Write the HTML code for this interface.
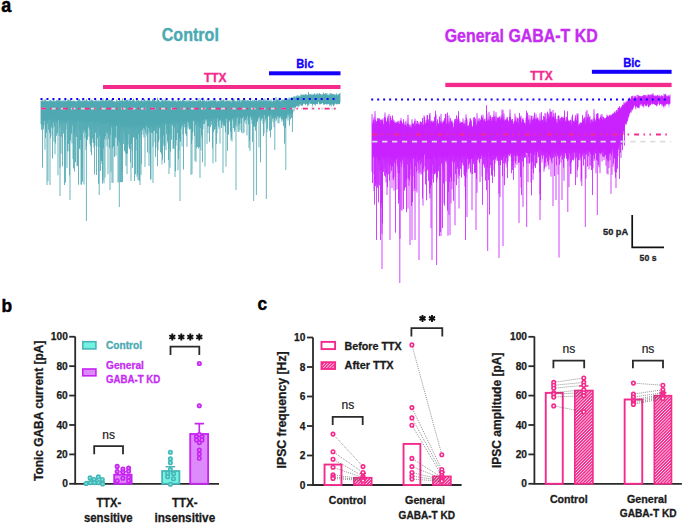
<!DOCTYPE html>
<html><head><meta charset="utf-8"><style>
html,body{margin:0;padding:0;background:#fff;}
svg{display:block;font-family:'Liberation Sans', sans-serif;}
</style></head><body>
<svg width="685" height="525" viewBox="0 0 685 525">
<rect width="685" height="525" fill="#fff"/>
<path d="M41 100.6V124.2M41.5 101.2V129.7M42.0 100.1V124.9M42.5 100.6V167.6M43.0 101.5V125.9M43.5 101.0V129.4M44.0 99.6V124.9M44.5 101.4V120.9M45.0 99.6V149.7M45.5 99.6V138.0M46.0 101.0V127.8M46.5 100.8V132.7M47.0 101.0V185.0M47.5 101.1V123.7M48.0 101.2V181.3M48.5 101.6V129.8M49.0 100.6V117.3M49.5 100.7V132.8M50.0 100.5V120.3M50.5 100.1V138.2M51.0 100.2V135.7M51.5 101.0V127.4M52.0 100.8V125.5M52.5 101.7V158.6M53.0 100.7V128.0M53.5 100.2V122.5M54.0 99.8V141.6M54.5 101.4V126.3M55.0 101.8V154.3M55.5 101.0V143.4M56.0 101.2V120.8M56.5 100.4V135.8M57.0 100.1V122.9M57.5 100.4V133.2M58.0 99.8V175.3M58.5 101.0V120.1M59.0 99.5V135.8M59.5 99.0V127.9M60.0 98.3V167.7M60.5 101.5V124.2M61.0 101.0V153.8M61.5 100.9V136.7M62.0 100.8V123.6M62.5 101.5V166.4M63.0 99.9V130.7M63.5 101.1V133.7M64.0 101.2V123.1M64.5 100.4V185.0M65.0 102.1V139.2M65.5 99.6V182.6M66.0 100.8V129.1M66.5 101.3V123.7M67.0 100.8V167.8M67.5 100.8V151.1M68.0 99.2V120.7M68.5 100.1V143.9M69.0 100.0V151.7M69.5 100.1V175.1M70.0 101.0V122.9M70.5 99.4V140.4M71.0 100.5V131.6M71.5 101.0V133.8M72.0 101.2V143.4M72.5 101.0V125.8M73.0 100.8V159.1M73.5 100.8V168.4M74.0 100.7V132.7M74.5 100.9V171.4M75.0 101.1V135.6M75.5 101.2V162.2M76.0 101.7V127.9M76.5 101.7V136.9M77.0 100.5V166.1M77.5 100.8V166.1M78.0 100.6V120.5M78.5 99.7V184.7M79.0 100.4V129.6M79.5 98.9V148.4M80.0 102.1V149.5M80.5 100.6V139.7M81.0 100.5V184.6M81.5 101.1V184.6M82.0 100.9V166.9M82.5 100.1V181.8M83.0 102.1V129.6M83.5 100.6V132.7M84.0 100.7V184.5M84.5 100.3V130.4M85.0 100.9V137.8M85.5 100.8V133.1M86.0 100.1V149.8M86.5 99.1V146.1M87.0 102.5V140.1M87.5 100.6V139.5M88.0 100.8V128.0M88.5 101.2V126.5M89.0 101.8V136.7M89.5 100.0V129.4M90.0 100.8V143.8M90.5 100.5V146.0M91.0 101.0V151.9M91.5 99.6V155.3M92.0 100.9V142.5M92.5 100.1V138.6M93.0 100.2V129.0M93.5 101.2V143.0M94.0 100.9V147.7M94.5 101.1V174.5M95.0 100.9V145.8M95.5 100.4V132.9M96.0 100.4V131.6M96.5 100.2V175.0M97.0 102.6V146.6M97.5 100.9V137.9M98.0 101.4V126.6M98.5 100.4V183.8M99.0 100.9V125.3M99.5 101.3V135.2M100.0 100.3V147.3M100.5 100.5V170.9M101.0 101.3V158.2M101.5 100.4V161.1M102.0 101.3V164.0M102.5 100.3V183.5M103.0 98.3V180.4M103.5 100.6V148.5M104.0 102.0V183.4M104.5 100.8V138.8M105.0 100.6V177.6M105.5 99.9V136.1M106.0 99.6V139.8M106.5 100.3V132.2M107.0 100.7V146.5M107.5 101.3V133.7M108.0 99.6V174.2M108.5 100.3V138.8M109.0 100.1V131.6M109.5 100.2V148.0M110.0 99.9V128.5M110.5 101.0V135.2M111.0 100.3V172.1M111.5 99.4V127.4M112.0 99.2V182.9M112.5 100.1V148.3M113.0 101.3V182.8M113.5 101.3V146.5M114.0 101.7V146.0M114.5 101.2V157.0M115.0 101.4V136.2M115.5 101.7V137.7M116.0 102.1V155.9M116.5 99.5V126.0M117.0 100.1V138.2M117.5 101.2V146.0M118.0 101.1V182.4M118.5 101.4V141.2M119.0 100.9V182.3M119.5 99.5V142.7M120.0 100.6V131.8M120.5 100.8V182.2M121.0 100.5V146.0M121.5 100.7V182.1M122.0 101.1V171.6M122.5 98.5V182.1M123.0 100.7V132.4M123.5 101.1V144.0M124.0 101.0V131.4M124.5 100.2V151.2M125.0 99.7V138.2M125.5 100.3V153.1M126.0 100.4V165.8M126.5 100.0V154.3M127.0 99.9V174.1M127.5 99.8V153.5M128.0 102.0V144.2M128.5 101.3V134.1M129.0 99.2V147.1M129.5 100.2V149.0M130.0 100.2V128.7M130.5 100.6V162.4M131.0 101.2V130.7M131.5 100.9V143.9M132.0 100.8V150.4M132.5 100.1V167.9M133.0 100.6V137.3M133.5 98.7V137.5M134.0 100.3V132.1M134.5 100.6V181.0M135.0 101.7V136.9M135.5 101.5V174.3M136.0 101.1V150.6M136.5 100.1V139.2M137.0 101.4V176.7M137.5 100.6V174.2M138.0 100.2V180.0M138.5 100.2V133.8M139.0 100.9V180.6M139.5 100.9V180.5M140.0 100.9V137.7M140.5 101.0V132.5M141.0 100.4V175.0M141.5 100.2V164.2M142.0 100.3V129.7M142.5 100.8V130.1M143.0 102.5V134.6M143.5 100.3V128.0M144.0 101.3V137.6M144.5 99.0V129.3M145.0 99.9V166.9M145.5 100.8V132.1M146.0 101.3V134.3M146.5 100.7V126.0M147.0 100.9V136.6M147.5 100.7V152.4M148.0 100.0V133.5M148.5 100.3V128.0M149.0 100.4V166.1M149.5 99.3V131.5M150.0 101.1V153.6M150.5 100.7V179.5M151.0 102.0V179.4M151.5 101.1V132.8M152.0 100.6V127.2M152.5 99.4V133.4M153.0 99.4V146.7M153.5 100.7V131.2M154.0 99.4V130.2M154.5 100.0V130.8M155.0 100.7V142.4M155.5 100.9V156.9M156.0 101.8V147.6M156.5 101.5V133.4M157.0 100.0V127.1M157.5 97.7V166.2M158.0 100.7V150.2M158.5 99.9V141.9M159.0 101.7V140.0M159.5 101.2V127.7M160.0 100.6V128.7M160.5 101.8V152.3M161.0 101.5V137.4M161.5 100.6V154.0M162.0 100.2V164.3M162.5 99.6V159.6M163.0 101.0V144.5M163.5 100.9V135.6M164.0 99.3V146.5M164.5 101.5V163.0M165.0 100.2V145.9M165.5 99.7V124.3M166.0 99.9V150.2M166.5 100.6V134.2M167.0 101.1V129.0M167.5 100.4V141.2M168.0 101.5V143.5M168.5 100.8V159.9M169.0 100.2V149.0M169.5 100.9V134.2M170.0 100.9V167.7M170.5 101.6V151.8M171.0 101.0V124.2M171.5 100.6V139.8M172.0 101.5V125.4M172.5 100.0V125.2M173.0 98.8V148.8M173.5 100.7V147.7M174.0 100.6V149.0M174.5 101.0V127.5M175.0 100.7V177.0M175.5 100.6V171.2M176.0 101.8V145.6M176.5 101.8V140.0M177.0 100.5V124.4M177.5 101.3V133.2M178.0 100.1V170.3M178.5 100.3V159.2M179.0 101.0V150.6M179.5 100.8V138.1M180.0 101.2V140.6M180.5 100.5V141.7M181.0 100.9V129.0M181.5 101.3V127.0M182.0 101.1V146.5M182.5 99.8V125.3M183.0 99.6V134.4M183.5 100.3V169.5M184.0 99.6V127.8M184.5 101.0V124.1M185.0 102.2V127.0M185.5 101.2V133.9M186.0 100.3V126.8M186.5 101.2V136.0M187.0 100.6V146.8M187.5 101.7V121.5M188.0 100.3V128.5M188.5 100.9V122.8M189.0 101.4V126.2M189.5 100.2V129.7M190.0 101.4V128.4M190.5 100.7V129.0M191.0 101.2V174.9M191.5 101.0V143.8M192.0 100.6V140.0M192.5 101.6V133.2M193.0 100.0V131.6M193.5 101.0V121.1M194.0 100.5V121.0M194.5 100.9V135.7M195.0 101.2V160.9M195.5 101.3V124.8M196.0 100.8V162.0M196.5 101.2V147.8M197.0 99.0V125.4M197.5 101.2V147.0M198.0 100.8V121.9M198.5 100.7V148.5M199.0 98.2V126.9M199.5 100.8V147.0M200.0 101.3V126.2M200.5 99.4V128.1M201.0 101.0V150.5M201.5 100.9V135.2M202.0 101.7V137.6M202.5 100.3V162.2M203.0 97.6V129.1M203.5 100.9V124.0M204.0 101.5V119.6M204.5 100.2V124.0M205.0 100.6V166.6M205.5 101.7V119.4M206.0 101.4V121.7M206.5 101.0V119.5M207.0 99.4V143.9M207.5 101.6V126.8M208.0 101.6V133.2M208.5 100.4V126.2M209.0 100.7V126.0M209.5 101.2V142.1M210.0 100.6V121.4M210.5 100.8V127.2M211.0 100.2V125.2M211.5 100.9V121.1M212.0 100.7V124.5M212.5 100.8V148.3M213.0 100.5V163.3M213.5 100.2V132.0M214.0 100.2V118.2M214.5 100.6V129.7M215.0 100.9V129.0M215.5 100.2V126.5M216.0 100.2V124.5M216.5 102.3V143.8M217.0 100.8V133.4M217.5 101.4V118.2M218.0 101.1V122.1M218.5 101.2V126.5M219.0 100.8V128.8M219.5 100.8V120.7M220.0 101.8V143.6M220.5 99.8V120.6M221.0 101.2V120.4M221.5 100.4V128.0M222.0 100.6V125.2M222.5 100.5V122.5M223.0 100.2V119.9M223.5 99.7V125.5M224.0 99.6V122.4M224.5 102.0V125.8M225.0 100.8V126.5M225.5 101.3V132.5M226.0 100.4V166.7M226.5 100.7V118.7M227.0 101.0V122.5M227.5 100.4V150.8M228.0 101.3V133.2M228.5 100.8V134.7M229.0 100.8V120.6M229.5 100.7V120.3M230.0 100.6V122.3M230.5 101.8V131.8M231.0 100.4V140.2M231.5 102.4V137.6M232.0 100.5V141.6M232.5 97.9V119.2M233.0 101.5V120.6M233.5 98.8V128.1M234.0 98.9V117.9M234.5 100.9V131.8M235.0 100.6V129.8M235.5 101.4V125.3M236.0 101.1V122.2M236.5 101.8V118.3M237.0 100.8V126.8M237.5 99.7V117.8M238.0 99.8V131.9M238.5 101.6V125.3M239.0 100.6V131.8M239.5 98.3V123.9M240.0 99.7V130.1M240.5 102.4V118.2M241.0 100.6V123.3M241.5 100.9V132.6M242.0 100.4V117.1M242.5 99.9V118.3M243.0 99.9V133.5M243.5 99.9V116.2M244.0 100.4V132.5M244.5 100.3V121.9M245.0 100.0V120.0M245.5 100.3V120.2M246.0 100.6V124.2M246.5 101.1V118.6M247.0 100.1V135.5M247.5 100.3V115.1M248.0 100.1V120.6M248.5 100.6V124.4M249.0 100.9V147.9M249.5 100.6V140.6M250.0 101.5V150.9M250.5 99.3V116.5M251.0 100.9V117.7M251.5 100.9V119.8M252.0 101.2V123.9M252.5 100.3V141.9M253.0 100.5V115.6M253.5 101.8V126.2M254.0 99.8V126.7M254.5 100.1V126.5M255.0 100.9V119.6M255.5 101.0V130.5M256.0 98.8V122.2M256.5 100.2V125.6M257.0 100.9V122.5M257.5 101.2V121.2M258.0 100.4V119.3M258.5 100.5V117.9M259.0 99.7V147.4M259.5 100.3V116.8M260.0 100.4V118.7M260.5 99.9V162.4M261.0 101.2V121.3M261.5 100.4V119.6M262.0 99.4V115.4M262.5 101.3V118.5M263.0 101.0V123.9M263.5 99.3V136.2M264.0 99.5V133.6M264.5 101.2V114.7M265.0 98.4V122.4M265.5 100.7V119.7M266.0 100.9V117.2M266.5 100.4V118.2M267.0 100.2V132.2M267.5 100.6V128.7M268.0 100.9V115.5M268.5 100.4V116.4M269.0 101.1V116.6M269.5 100.5V130.8M270.0 101.4V115.3M270.5 100.5V137.5M271.0 99.4V113.6M271.5 101.5V129.8M272.0 101.2V116.9M272.5 101.5V118.9M273.0 101.2V121.9M273.5 99.4V117.8M274.0 99.8V127.1M274.5 100.9V119.9M275.0 100.4V118.0M275.5 101.5V117.8M276.0 97.0V121.3M276.5 99.9V119.5M277.0 99.6V117.8M277.5 99.8V115.5M278.0 99.5V123.3M278.5 100.7V116.2M279.0 97.6V123.2M279.5 100.5V118.0M280.0 100.3V117.7M280.5 101.3V116.3M281.0 100.4V118.5M281.5 100.7V119.5M282.0 99.6V121.8M282.5 99.9V119.4M283.0 100.7V119.1M283.5 99.9V126.1M284.0 99.7V120.1M284.5 98.7V143.7M285.0 98.2V118.5M285.5 100.4V128.2M286.0 100.2V117.5M286.5 98.9V118.6M287.0 99.6V118.0M287.5 98.6V114.5M288.0 99.1V120.7M288.5 99.4V114.5M289.0 97.5V117.2M289.5 99.0V125.7M290.0 97.7V113.6M290.5 99.1V119.2M291.0 98.1V113.8M291.5 97.3V117.7M292.0 97.4V117.8M292.5 97.5V113.6M293.0 98.2V112.4M293.5 96.7V110.0M294.0 97.1V108.0M294.5 96.6V106.3M295.0 95.9V105.1M295.5 97.8V104.3M296.0 96.8V104.0M296.5 96.2V104.0M297.0 95.3V104.0M297.5 97.0V104.0M298.0 95.5V104.0M298.5 95.7V104.0M299.0 96.4V104.0M299.5 96.8V104.0M300.0 95.6V102.7M300.5 96.5V104.0M301.0 94.1V104.0M301.5 94.9V104.0M302.0 94.8V104.0M302.5 94.8V104.0M303.0 95.5V104.0M303.5 94.5V102.6M304.0 94.8V103.9M304.5 95.2V101.9M305.0 94.1V104.0M305.5 94.4V104.0M306.0 94.4V104.0M306.5 94.8V103.5M307.0 94.9V103.7M307.5 95.0V104.0M308.0 94.8V104.0M308.5 92.0V104.0M309.0 94.0V104.0M309.5 94.3V102.3M310.0 95.6V101.9M310.5 94.1V103.6M311.0 95.3V103.2M311.5 94.7V103.5M312.0 93.8V104.0M312.5 94.9V104.0M313.0 94.8V103.4M313.5 94.8V104.0M314.0 93.7V104.0M314.5 93.5V104.0M315.0 94.4V104.0M315.5 94.7V104.0M316.0 94.4V102.7M316.5 94.4V104.0M317.0 93.3V103.9M317.5 94.7V104.0M318.0 93.3V102.4M318.5 94.8V102.1M319.0 94.0V101.4M319.5 93.2V104.0M320.0 93.7V104.0M320.5 94.2V104.0M321.0 94.3V101.4M321.5 95.4V103.8M322.0 94.5V103.3M322.5 94.3V102.5M323.0 94.3V103.1M323.5 92.7V104.0M324.0 94.9V104.0M324.5 94.0V104.0M325.0 93.7V104.0M325.5 93.6V103.5M326.0 93.1V104.0M326.5 94.6V104.0M327.0 93.3V104.0M327.5 94.8V104.0M328.0 94.6V104.0M328.5 95.3V104.0M329.0 94.5V103.4M329.5 94.5V104.0M330.0 93.1V104.0M330.5 94.7V104.0M331.0 93.6V104.0M331.5 93.6V104.0M332.0 93.8V102.3M332.5 94.0V104.0M333.0 94.5V104.0M333.5 94.2V104.0M334.0 94.7V104.0M334.5 94.2V104.0M335.0 95.7V102.8M335.5 94.6V103.2M336.0 94.8V104.0M336.5 93.4V104.0M337.0 95.3V103.0M337.5 95.0V103.7M338.0 94.2V103.7M338.5 94.4V104.0M339.0 94.2V104.0M339.5 93.6V103.9M340.0 92.9V102.7M86.4 122.3V221.0M99.2 124.0V195.0M119.3 125.6V207.0M131 126.1V181.0M153 123.9V183.0M169 123.3V174.0M180 121.1V201.0M192 120.8V174.0M215.8 121.0V162.0M223 118.6V173.0M236 116.4V190.0M253.7 114.8V201.0M256.4 114.1V195.0M266.3 115.0V199.0M274.8 117.9V150.0M285.8 115.6V170.0M292.4 110.4V132.0M60 119.2V196.0M70 120.2V200.0M50 121.3V185.0M110 125.6V190.0M140 125.7V185.0M200 119.6V178.0" stroke="#4FA9B2" stroke-width="0.85" fill="none"/><polygon points="41,102.1 41.5,102.7 42.0,101.6 42.5,102.1 43.0,103.0 43.5,102.5 44.0,101.1 44.5,102.9 45.0,101.1 45.5,101.1 46.0,102.5 46.5,102.3 47.0,102.5 47.5,102.6 48.0,102.7 48.5,103.1 49.0,102.1 49.5,102.2 50.0,102.0 50.5,101.6 51.0,101.7 51.5,102.5 52.0,102.3 52.5,103.2 53.0,102.2 53.5,101.7 54.0,101.3 54.5,102.9 55.0,103.3 55.5,102.5 56.0,102.7 56.5,101.9 57.0,101.6 57.5,101.9 58.0,101.3 58.5,102.5 59.0,101.0 59.5,100.5 60.0,99.8 60.5,103.0 61.0,102.5 61.5,102.4 62.0,102.3 62.5,103.0 63.0,101.4 63.5,102.6 64.0,102.7 64.5,101.9 65.0,103.6 65.5,101.1 66.0,102.3 66.5,102.8 67.0,102.3 67.5,102.3 68.0,100.7 68.5,101.6 69.0,101.5 69.5,101.6 70.0,102.5 70.5,100.9 71.0,102.0 71.5,102.5 72.0,102.7 72.5,102.5 73.0,102.3 73.5,102.3 74.0,102.2 74.5,102.4 75.0,102.6 75.5,102.7 76.0,103.2 76.5,103.2 77.0,102.0 77.5,102.3 78.0,102.1 78.5,101.2 79.0,101.9 79.5,100.4 80.0,103.6 80.5,102.1 81.0,102.0 81.5,102.6 82.0,102.4 82.5,101.6 83.0,103.6 83.5,102.1 84.0,102.2 84.5,101.8 85.0,102.4 85.5,102.3 86.0,101.6 86.5,100.6 87.0,104.0 87.5,102.1 88.0,102.3 88.5,102.7 89.0,103.3 89.5,101.5 90.0,102.3 90.5,102.0 91.0,102.5 91.5,101.1 92.0,102.4 92.5,101.6 93.0,101.7 93.5,102.7 94.0,102.4 94.5,102.6 95.0,102.4 95.5,101.9 96.0,101.9 96.5,101.7 97.0,104.1 97.5,102.4 98.0,102.9 98.5,101.9 99.0,102.4 99.5,102.8 100.0,101.8 100.5,102.0 101.0,102.8 101.5,101.9 102.0,102.8 102.5,101.8 103.0,99.8 103.5,102.1 104.0,103.5 104.5,102.3 105.0,102.1 105.5,101.4 106.0,101.1 106.5,101.8 107.0,102.2 107.5,102.8 108.0,101.1 108.5,101.8 109.0,101.6 109.5,101.7 110.0,101.4 110.5,102.5 111.0,101.8 111.5,100.9 112.0,100.7 112.5,101.6 113.0,102.8 113.5,102.8 114.0,103.2 114.5,102.7 115.0,102.9 115.5,103.2 116.0,103.6 116.5,101.0 117.0,101.6 117.5,102.7 118.0,102.6 118.5,102.9 119.0,102.4 119.5,101.0 120.0,102.1 120.5,102.3 121.0,102.0 121.5,102.2 122.0,102.6 122.5,100.0 123.0,102.2 123.5,102.6 124.0,102.5 124.5,101.7 125.0,101.2 125.5,101.8 126.0,101.9 126.5,101.5 127.0,101.4 127.5,101.3 128.0,103.5 128.5,102.8 129.0,100.7 129.5,101.7 130.0,101.7 130.5,102.1 131.0,102.7 131.5,102.4 132.0,102.3 132.5,101.6 133.0,102.1 133.5,100.2 134.0,101.8 134.5,102.1 135.0,103.2 135.5,103.0 136.0,102.6 136.5,101.6 137.0,102.9 137.5,102.1 138.0,101.7 138.5,101.7 139.0,102.4 139.5,102.4 140.0,102.4 140.5,102.5 141.0,101.9 141.5,101.7 142.0,101.8 142.5,102.3 143.0,104.0 143.5,101.8 144.0,102.8 144.5,100.5 145.0,101.4 145.5,102.3 146.0,102.8 146.5,102.2 147.0,102.4 147.5,102.2 148.0,101.5 148.5,101.8 149.0,101.9 149.5,100.8 150.0,102.6 150.5,102.2 151.0,103.5 151.5,102.6 152.0,102.1 152.5,100.9 153.0,100.9 153.5,102.2 154.0,100.9 154.5,101.5 155.0,102.2 155.5,102.4 156.0,103.3 156.5,103.0 157.0,101.5 157.5,99.2 158.0,102.2 158.5,101.4 159.0,103.2 159.5,102.7 160.0,102.1 160.5,103.3 161.0,103.0 161.5,102.1 162.0,101.7 162.5,101.1 163.0,102.5 163.5,102.4 164.0,100.8 164.5,103.0 165.0,101.7 165.5,101.2 166.0,101.4 166.5,102.1 167.0,102.6 167.5,101.9 168.0,103.0 168.5,102.3 169.0,101.7 169.5,102.4 170.0,102.4 170.5,103.1 171.0,102.5 171.5,102.1 172.0,103.0 172.5,101.5 173.0,100.3 173.5,102.2 174.0,102.1 174.5,102.5 175.0,102.2 175.5,102.1 176.0,103.3 176.5,103.3 177.0,102.0 177.5,102.8 178.0,101.6 178.5,101.8 179.0,102.5 179.5,102.3 180.0,102.7 180.5,102.0 181.0,102.4 181.5,102.8 182.0,102.6 182.5,101.3 183.0,101.1 183.5,101.8 184.0,101.1 184.5,102.5 185.0,103.7 185.5,102.7 186.0,101.8 186.5,102.7 187.0,102.1 187.5,103.2 188.0,101.8 188.5,102.4 189.0,102.9 189.5,101.7 190.0,102.9 190.5,102.2 191.0,102.7 191.5,102.5 192.0,102.1 192.5,103.1 193.0,101.5 193.5,102.5 194.0,102.0 194.5,102.4 195.0,102.7 195.5,102.8 196.0,102.3 196.5,102.7 197.0,100.5 197.5,102.7 198.0,102.3 198.5,102.2 199.0,99.7 199.5,102.3 200.0,102.8 200.5,100.9 201.0,102.5 201.5,102.4 202.0,103.2 202.5,101.8 203.0,99.1 203.5,102.4 204.0,103.0 204.5,101.7 205.0,102.1 205.5,103.2 206.0,102.9 206.5,102.5 207.0,100.9 207.5,103.1 208.0,103.1 208.5,101.9 209.0,102.2 209.5,102.7 210.0,102.1 210.5,102.3 211.0,101.7 211.5,102.4 212.0,102.2 212.5,102.3 213.0,102.0 213.5,101.7 214.0,101.7 214.5,102.1 215.0,102.4 215.5,101.7 216.0,101.7 216.5,103.8 217.0,102.3 217.5,102.9 218.0,102.6 218.5,102.7 219.0,102.3 219.5,102.3 220.0,103.3 220.5,101.3 221.0,102.7 221.5,101.9 222.0,102.1 222.5,102.0 223.0,101.7 223.5,101.2 224.0,101.1 224.5,103.5 225.0,102.3 225.5,102.8 226.0,101.9 226.5,102.2 227.0,102.5 227.5,101.9 228.0,102.8 228.5,102.3 229.0,102.3 229.5,102.2 230.0,102.1 230.5,103.3 231.0,101.9 231.5,103.9 232.0,102.0 232.5,99.4 233.0,103.0 233.5,100.3 234.0,100.4 234.5,102.4 235.0,102.1 235.5,102.9 236.0,102.6 236.5,103.3 237.0,102.3 237.5,101.2 238.0,101.3 238.5,103.1 239.0,102.1 239.5,99.8 240.0,101.2 240.5,103.9 241.0,102.1 241.5,102.4 242.0,101.9 242.5,101.4 243.0,101.4 243.5,101.4 244.0,101.9 244.5,101.8 245.0,101.5 245.5,101.8 246.0,102.1 246.5,102.6 247.0,101.6 247.5,101.8 248.0,101.6 248.5,102.1 249.0,102.4 249.5,102.1 250.0,103.0 250.5,100.8 251.0,102.4 251.5,102.4 252.0,102.7 252.5,101.8 253.0,102.0 253.5,103.3 254.0,101.3 254.5,101.6 255.0,102.4 255.5,102.5 256.0,100.3 256.5,101.7 257.0,102.4 257.5,102.7 258.0,101.9 258.5,102.0 259.0,101.2 259.5,101.8 260.0,101.9 260.5,101.4 261.0,102.7 261.5,101.9 262.0,100.9 262.5,102.8 263.0,102.5 263.5,100.8 264.0,101.0 264.5,102.7 265.0,99.9 265.5,102.2 266.0,102.4 266.5,101.9 267.0,101.7 267.5,102.1 268.0,102.4 268.5,101.9 269.0,102.6 269.5,102.0 270.0,102.9 270.5,102.0 271.0,100.9 271.5,103.0 272.0,102.7 272.5,103.0 273.0,102.7 273.5,100.9 274.0,101.3 274.5,102.4 275.0,101.9 275.5,103.0 276.0,98.5 276.5,101.4 277.0,101.1 277.5,101.3 278.0,101.0 278.5,102.2 279.0,99.1 279.5,102.0 280.0,101.8 280.5,102.8 281.0,101.9 281.5,102.2 282.0,101.1 282.5,101.4 283.0,102.2 283.5,101.4 284.0,101.2 284.5,100.2 285.0,99.7 285.5,101.9 286.0,101.7 286.5,100.4 287.0,101.1 287.5,100.1 288.0,100.6 288.5,100.9 289.0,99.0 289.5,100.5 290.0,99.2 290.5,100.6 291.0,99.6 291.5,98.8 292.0,98.9 292.5,99.0 293.0,99.7 293.5,98.2 294.0,98.6 294.5,98.1 295.0,97.4 295.5,99.3 296.0,98.3 296.5,97.7 297.0,96.8 297.5,98.5 298.0,97.0 298.5,97.2 299.0,97.9 299.5,98.3 300.0,97.1 300.5,98.0 301.0,95.6 301.5,96.4 302.0,96.3 302.5,96.3 303.0,97.0 303.5,96.0 304.0,96.3 304.5,96.7 305.0,95.6 305.5,95.9 306.0,95.9 306.5,96.3 307.0,96.4 307.5,96.5 308.0,96.3 308.5,93.5 309.0,95.5 309.5,95.8 310.0,97.1 310.5,95.6 311.0,96.8 311.5,96.2 312.0,95.3 312.5,96.4 313.0,96.3 313.5,96.3 314.0,95.2 314.5,95.0 315.0,95.9 315.5,96.2 316.0,95.9 316.5,95.9 317.0,94.8 317.5,96.2 318.0,94.8 318.5,96.3 319.0,95.5 319.5,94.7 320.0,95.2 320.5,95.7 321.0,95.8 321.5,96.9 322.0,96.0 322.5,95.8 323.0,95.8 323.5,94.2 324.0,96.4 324.5,95.5 325.0,95.2 325.5,95.1 326.0,94.6 326.5,96.1 327.0,94.8 327.5,96.3 328.0,96.1 328.5,96.8 329.0,96.0 329.5,96.0 330.0,94.6 330.5,96.2 331.0,95.1 331.5,95.1 332.0,95.3 332.5,95.5 333.0,96.0 333.5,95.7 334.0,96.2 334.5,95.7 335.0,97.2 335.5,96.1 336.0,96.3 336.5,94.9 337.0,96.8 337.5,96.5 338.0,95.7 338.5,95.9 339.0,95.7 339.5,95.1 340.0,94.4 340.0,102.7 339.5,103.9 339.0,104.6 338.5,104.3 338.0,103.7 337.5,103.7 337.0,103.0 336.5,104.8 336.0,104.5 335.5,103.2 335.0,102.8 334.5,105.1 334.0,105.8 333.5,106.5 333.0,105.2 332.5,105.0 332.0,102.3 331.5,105.9 331.0,106.9 330.5,104.7 330.0,104.8 329.5,106.9 329.0,103.4 328.5,104.0 328.0,104.0 327.5,104.1 327.0,104.9 326.5,104.2 326.0,104.3 325.5,103.5 325.0,104.8 324.5,104.2 324.0,104.9 323.5,105.0 323.0,103.1 322.5,102.5 322.0,103.3 321.5,103.8 321.0,101.4 320.5,104.3 320.0,104.4 319.5,104.8 319.0,101.4 318.5,102.1 318.0,102.4 317.5,104.6 317.0,103.9 316.5,104.4 316.0,102.7 315.5,106.3 315.0,105.3 314.5,104.2 314.0,104.5 313.5,104.3 313.0,103.4 312.5,107.8 312.0,104.4 311.5,103.5 311.0,103.2 310.5,103.6 310.0,101.9 309.5,102.3 309.0,105.8 308.5,104.3 308.0,106.4 307.5,106.6 307.0,103.7 306.5,103.5 306.0,104.3 305.5,104.9 305.0,105.4 304.5,101.9 304.0,103.9 303.5,102.6 303.0,105.2 302.5,105.4 302.0,105.9 301.5,105.5 301.0,105.7 300.5,105.4 300.0,102.7 299.5,107.0 299.0,105.3 298.5,108.1 298.0,105.2 297.5,106.9 297.0,106.5 296.5,106.3 296.0,106.3 295.5,108.5 295.0,108.6 294.5,111.9 294.0,108.9 293.5,109.2 293.0,109.4 292.5,109.6 292.0,110.3 291.5,111.7 291.0,113.1 290.5,113.8 290.0,113.0 289.5,114.5 289.0,114.0 288.5,114.2 288.0,115.2 287.5,113.5 287.0,116.2 286.5,114.4 286.0,117.4 285.5,116.9 285.0,117.2 284.5,117.2 284.0,117.5 283.5,116.0 283.0,117.0 282.5,116.6 282.0,114.3 281.5,113.3 281.0,114.6 280.5,115.6 280.0,116.6 279.5,117.4 279.0,114.2 278.5,115.8 278.0,117.5 277.5,115.4 277.0,115.7 276.5,114.7 276.0,114.4 275.5,114.1 275.0,115.1 274.5,116.3 274.0,117.4 273.5,116.1 273.0,114.8 272.5,113.5 272.0,115.9 271.5,115.2 271.0,113.1 270.5,114.4 270.0,113.7 269.5,116.8 269.0,115.1 268.5,114.6 268.0,113.3 267.5,116.4 267.0,116.1 266.5,117.7 266.0,113.2 265.5,116.6 265.0,116.3 264.5,114.2 264.0,115.6 263.5,116.5 263.0,114.7 262.5,116.0 262.0,114.1 261.5,113.6 261.0,116.9 260.5,114.4 260.0,116.8 259.5,113.5 259.0,115.1 258.5,114.9 258.0,115.5 257.5,118.0 257.0,117.2 256.5,115.0 256.0,113.7 255.5,115.2 255.0,117.1 254.5,119.0 254.0,115.6 253.5,115.1 253.0,115.3 252.5,118.0 252.0,117.5 251.5,114.5 251.0,115.2 250.5,115.3 250.0,117.5 249.5,115.1 249.0,118.0 248.5,117.6 248.0,117.0 247.5,114.7 247.0,117.6 246.5,115.4 246.0,116.5 245.5,116.1 245.0,118.6 244.5,117.8 244.0,118.4 243.5,115.9 243.0,116.3 242.5,117.0 242.0,116.9 241.5,118.6 241.0,116.7 240.5,116.9 240.0,120.0 239.5,116.9 239.0,117.7 238.5,114.4 238.0,115.8 237.5,115.9 237.0,116.7 236.5,117.2 236.0,115.0 235.5,116.8 235.0,118.0 234.5,119.4 234.0,116.7 233.5,117.4 233.0,116.7 232.5,117.4 232.0,117.8 231.5,117.8 231.0,119.0 230.5,119.8 230.0,120.0 229.5,120.1 229.0,118.0 228.5,119.8 228.0,118.2 227.5,118.2 227.0,117.4 226.5,117.6 226.0,118.5 225.5,117.8 225.0,118.1 224.5,119.7 224.0,116.8 223.5,116.1 223.0,118.6 222.5,119.7 222.0,117.9 221.5,119.7 221.0,117.2 220.5,119.3 220.0,118.9 219.5,119.4 219.0,119.4 218.5,120.3 218.0,116.8 217.5,117.2 217.0,120.2 216.5,118.5 216.0,120.3 215.5,118.8 215.0,118.9 214.5,118.4 214.0,117.4 213.5,120.3 213.0,118.4 212.5,118.8 212.0,116.9 211.5,119.9 211.0,119.9 210.5,119.8 210.0,119.1 209.5,119.8 209.0,118.6 208.5,119.1 208.0,119.1 207.5,119.5 207.0,118.4 206.5,119.5 206.0,118.9 205.5,118.8 205.0,119.2 204.5,121.6 204.0,118.4 203.5,119.1 203.0,119.5 202.5,121.8 202.0,120.4 201.5,121.2 201.0,120.8 200.5,121.5 200.0,119.6 199.5,121.7 199.0,121.1 198.5,122.5 198.0,119.1 197.5,119.4 197.0,122.3 196.5,120.4 196.0,121.8 195.5,120.4 195.0,119.2 194.5,119.8 194.0,120.9 193.5,117.8 193.0,121.1 192.5,120.2 192.0,120.1 191.5,121.8 191.0,120.4 190.5,121.8 190.0,122.1 189.5,120.0 189.0,122.7 188.5,121.8 188.0,121.2 187.5,119.5 187.0,122.6 186.5,120.7 186.0,123.7 185.5,120.4 185.0,120.1 184.5,121.5 184.0,121.6 183.5,122.1 183.0,121.8 182.5,120.6 182.0,125.0 181.5,120.4 181.0,119.6 180.5,121.0 180.0,122.5 179.5,123.9 179.0,121.0 178.5,121.2 178.0,122.3 177.5,122.9 177.0,123.4 176.5,121.7 176.0,120.6 175.5,121.5 175.0,123.0 174.5,121.3 174.0,122.9 173.5,125.2 173.0,122.4 172.5,120.7 172.0,123.1 171.5,121.7 171.0,123.3 170.5,122.6 170.0,123.3 169.5,122.9 169.0,124.0 168.5,123.5 168.0,123.2 167.5,122.7 167.0,124.6 166.5,121.4 166.0,123.4 165.5,121.9 165.0,125.6 164.5,124.5 164.0,121.7 163.5,124.6 163.0,121.9 162.5,122.9 162.0,122.9 161.5,122.6 161.0,126.5 160.5,125.6 160.0,123.2 159.5,126.2 159.0,125.1 158.5,124.2 158.0,126.7 157.5,124.9 157.0,125.1 156.5,125.3 156.0,124.1 155.5,124.4 155.0,125.1 154.5,127.9 154.0,124.9 153.5,124.9 153.0,126.9 152.5,126.6 152.0,124.0 151.5,127.0 151.0,126.1 150.5,127.4 150.0,124.3 149.5,127.5 149.0,124.5 148.5,124.9 148.0,126.3 147.5,124.0 147.0,126.9 146.5,125.2 146.0,126.5 145.5,125.5 145.0,125.7 144.5,127.7 144.0,126.1 143.5,125.1 143.0,126.5 142.5,125.2 142.0,125.1 141.5,126.4 141.0,124.9 140.5,126.5 140.0,125.7 139.5,125.3 139.0,126.2 138.5,125.0 138.0,124.0 137.5,126.9 137.0,127.4 136.5,125.0 136.0,129.1 135.5,126.5 135.0,126.3 134.5,124.5 134.0,124.4 133.5,126.6 133.0,127.5 132.5,127.4 132.0,126.5 131.5,125.3 131.0,128.1 130.5,126.4 130.0,125.4 129.5,127.3 129.0,127.8 128.5,126.2 128.0,126.6 127.5,125.3 127.0,126.7 126.5,124.2 126.0,125.9 125.5,127.0 125.0,126.9 124.5,125.5 124.0,126.0 123.5,125.4 123.0,128.0 122.5,128.0 122.0,126.8 121.5,123.9 121.0,127.2 120.5,125.9 120.0,126.9 119.5,122.9 119.0,124.0 118.5,125.9 118.0,125.1 117.5,123.4 117.0,124.6 116.5,123.2 116.0,126.0 115.5,126.2 115.0,124.4 114.5,126.2 114.0,126.6 113.5,125.9 113.0,125.1 112.5,126.1 112.0,124.8 111.5,121.3 111.0,123.3 110.5,124.7 110.0,126.0 109.5,125.1 109.0,121.8 108.5,123.0 108.0,123.3 107.5,123.2 107.0,124.7 106.5,122.8 106.0,123.3 105.5,123.3 105.0,122.0 104.5,124.2 104.0,124.5 103.5,124.7 103.0,125.2 102.5,122.9 102.0,122.5 101.5,122.6 101.0,121.9 100.5,124.4 100.0,121.4 99.5,123.5 99.0,120.7 98.5,122.7 98.0,123.5 97.5,122.2 97.0,122.0 96.5,121.1 96.0,122.1 95.5,123.8 95.0,123.8 94.5,121.0 94.0,123.9 93.5,123.6 93.0,121.5 92.5,121.6 92.0,121.1 91.5,121.9 91.0,123.6 90.5,120.5 90.0,122.4 89.5,121.9 89.0,122.6 88.5,122.7 88.0,123.6 87.5,122.5 87.0,120.6 86.5,121.7 86.0,121.6 85.5,123.9 85.0,122.5 84.5,122.7 84.0,123.5 83.5,124.1 83.0,121.3 82.5,123.5 82.0,122.2 81.5,121.1 81.0,121.3 80.5,120.7 80.0,122.4 79.5,121.3 79.0,121.9 78.5,121.6 78.0,119.0 77.5,120.5 77.0,122.1 76.5,121.5 76.0,120.5 75.5,121.7 75.0,122.0 74.5,121.9 74.0,119.4 73.5,121.2 73.0,122.0 72.5,121.5 72.0,119.2 71.5,119.8 71.0,122.7 70.5,122.1 70.0,121.6 69.5,120.1 69.0,119.0 68.5,120.7 68.0,120.3 67.5,118.7 67.0,121.9 66.5,120.7 66.0,122.3 65.5,118.7 65.0,119.7 64.5,121.7 64.0,121.4 63.5,120.7 63.0,120.3 62.5,120.7 62.0,120.1 61.5,120.8 61.0,121.1 60.5,119.4 60.0,119.6 59.5,119.6 59.0,118.4 58.5,119.6 58.0,121.3 57.5,122.2 57.0,121.4 56.5,121.6 56.0,118.9 55.5,119.8 55.0,121.1 54.5,120.1 54.0,123.1 53.5,120.0 53.0,122.1 52.5,118.9 52.0,121.5 51.5,120.8 51.0,120.3 50.5,118.0 50.0,120.2 49.5,121.6 49.0,116.9 48.5,120.4 48.0,120.1 47.5,120.9 47.0,119.5 46.5,120.4 46.0,119.7 45.5,120.5 45.0,119.9 44.5,119.3 44.0,121.6 43.5,119.0 43.0,120.9 42.5,118.2 42.0,120.3 41.5,121.3 41,120.0" fill="#4FA9B2"/><path d="M372 114.1V171.7M372.5 124.5V183.0M373.0 121.5V173.8M373.5 119.7V157.1M374.0 117.1V191.2M374.5 123.4V204.6M375.0 111.1V182.7M375.5 119.7V186.2M376.0 123.9V184.7M376.5 121.2V240.0M377.0 121.0V156.8M377.5 118.1V187.9M378.0 120.8V183.3M378.5 118.5V202.4M379.0 118.3V163.8M379.5 118.8V185.6M380.0 122.6V170.2M380.5 119.5V240.0M381.0 123.7V207.8M381.5 119.6V203.4M382.0 119.8V233.9M382.5 120.4V223.4M383.0 118.3V159.1M383.5 124.1V172.0M384.0 124.8V168.7M384.5 117.0V175.7M385.0 112.5V165.7M385.5 118.0V176.7M386.0 121.8V182.5M386.5 121.5V173.4M387.0 120.6V195.0M387.5 117.9V187.2M388.0 115.7V162.5M388.5 122.1V174.5M389.0 114.0V164.4M389.5 124.7V180.7M390.0 121.4V173.0M390.5 115.8V164.9M391.0 118.0V166.2M391.5 120.0V170.7M392.0 121.5V188.1M392.5 115.4V166.2M393.0 118.8V178.4M393.5 121.5V180.2M394.0 120.2V190.7M394.5 122.5V162.6M395.0 121.3V176.9M395.5 122.9V232.7M396.0 124.5V164.1M396.5 121.9V159.3M397.0 122.9V189.5M397.5 122.1V166.8M398.0 120.8V172.9M398.5 123.4V203.6M399.0 120.8V199.6M399.5 124.0V173.5M400.0 122.2V238.6M400.5 120.6V162.2M401.0 118.0V209.9M401.5 121.1V166.8M402.0 124.9V210.7M402.5 123.2V159.8M403.0 122.7V163.7M403.5 119.2V209.0M404.0 124.3V168.1M404.5 125.2V190.5M405.0 121.9V188.0M405.5 124.9V186.9M406.0 120.6V180.6M406.5 126.8V212.3M407.0 124.4V178.7M407.5 123.7V164.5M408.0 114.8V208.7M408.5 124.4V178.6M409.0 124.2V185.9M409.5 126.8V180.9M410.0 124.8V175.5M410.5 126.9V163.3M411.0 124.8V169.2M411.5 127.8V205.9M412.0 119.3V240.0M412.5 123.5V202.3M413.0 123.7V176.2M413.5 123.5V158.7M414.0 125.5V191.1M414.5 121.2V188.3M415.0 118.6V240.0M415.5 126.2V166.2M416.0 120.6V190.5M416.5 123.7V172.2M417.0 124.1V192.6M417.5 120.9V161.6M418.0 123.9V170.2M418.5 123.8V163.9M419.0 121.9V173.3M419.5 125.0V159.8M420.0 123.8V172.5M420.5 121.3V164.8M421.0 122.3V174.6M421.5 122.1V162.5M422.0 126.3V173.8M422.5 117.9V198.6M423.0 124.3V205.6M423.5 124.9V168.7M424.0 115.5V171.8M424.5 116.8V154.6M425.0 123.9V166.4M425.5 123.3V184.4M426.0 120.0V166.8M426.5 121.9V200.3M427.0 115.3V171.0M427.5 115.0V169.6M428.0 123.2V160.6M428.5 119.3V180.9M429.0 123.7V170.2M429.5 114.6V193.5M430.0 112.9V198.4M430.5 121.5V187.8M431.0 123.4V228.2M431.5 120.6V184.9M432.0 121.3V173.0M432.5 122.4V164.3M433.0 120.6V179.0M433.5 121.2V182.7M434.0 121.9V174.1M434.5 116.8V174.1M435.0 124.2V174.3M435.5 110.7V172.8M436.0 114.4V160.2M436.5 126.6V182.4M437.0 121.3V179.5M437.5 119.3V177.3M438.0 124.4V169.3M438.5 123.5V171.4M439.0 122.8V166.4M439.5 116.6V236.1M440.0 121.1V179.6M440.5 122.3V231.9M441.0 113.9V236.0M441.5 123.4V163.0M442.0 121.0V164.6M442.5 123.3V228.0M443.0 122.1V170.5M443.5 121.4V183.5M444.0 120.1V203.5M444.5 118.2V205.7M445.0 122.7V156.8M445.5 114.0V161.7M446.0 113.7V181.3M446.5 123.6V160.8M447.0 123.8V163.6M447.5 112.5V210.5M448.0 120.7V235.8M448.5 124.3V191.9M449.0 115.5V214.9M449.5 122.7V182.0M450.0 121.2V161.2M450.5 118.1V177.1M451.0 123.7V203.5M451.5 121.1V181.4M452.0 120.3V189.2M452.5 122.5V161.0M453.0 126.7V162.5M453.5 127.5V200.8M454.0 122.8V181.8M454.5 119.3V162.7M455.0 121.0V225.3M455.5 118.7V174.2M456.0 123.9V161.2M456.5 115.3V185.2M457.0 127.0V169.0M457.5 119.4V167.2M458.0 116.7V178.4M458.5 111.2V173.9M459.0 119.0V208.5M459.5 123.5V175.9M460.0 120.9V160.8M460.5 123.0V168.8M461.0 122.6V162.2M461.5 122.0V177.5M462.0 123.3V165.6M462.5 122.2V162.8M463.0 118.3V155.4M463.5 123.2V165.3M464.0 124.7V174.3M464.5 123.4V176.1M465.0 120.3V186.7M465.5 125.8V199.2M466.0 114.3V177.4M466.5 117.9V172.2M467.0 119.5V217.0M467.5 125.6V158.9M468.0 127.5V169.5M468.5 125.3V165.3M469.0 125.6V168.4M469.5 122.3V163.6M470.0 118.2V162.5M470.5 118.6V172.1M471.0 123.9V173.8M471.5 120.5V158.6M472.0 127.5V210.1M472.5 126.4V174.0M473.0 125.9V162.9M473.5 117.6V164.2M474.0 120.5V161.3M474.5 117.0V172.8M475.0 121.9V172.8M475.5 118.6V172.8M476.0 124.0V155.4M476.5 125.3V178.8M477.0 113.3V192.8M477.5 122.3V159.9M478.0 119.5V156.9M478.5 121.1V158.6M479.0 118.0V161.4M479.5 121.8V163.1M480.0 118.7V182.0M480.5 119.9V159.0M481.0 121.9V158.9M481.5 115.3V155.8M482.0 119.2V176.6M482.5 117.3V204.9M483.0 114.6V165.4M483.5 120.2V164.3M484.0 121.1V157.7M484.5 118.9V167.7M485.0 121.1V164.3M485.5 121.5V180.6M486.0 118.3V159.9M486.5 105.2V190.2M487.0 113.6V173.3M487.5 120.8V167.6M488.0 119.4V157.5M488.5 119.9V180.2M489.0 111.8V158.9M489.5 120.9V214.6M490.0 117.1V168.0M490.5 115.3V165.4M491.0 117.0V160.6M491.5 121.0V175.0M492.0 118.4V176.0M492.5 117.0V183.1M493.0 120.7V160.4M493.5 116.7V159.7M494.0 110.9V170.4M494.5 117.6V176.7M495.0 116.1V163.5M495.5 121.4V159.5M496.0 112.2V158.5M496.5 122.2V156.5M497.0 116.7V160.7M497.5 118.0V160.8M498.0 118.3V158.3M498.5 117.5V165.2M499.0 117.3V193.5M499.5 116.5V160.7M500.0 118.1V197.1M500.5 119.8V165.0M501.0 115.6V159.6M501.5 117.9V160.3M502.0 109.5V159.0M502.5 120.6V176.3M503.0 109.8V163.3M503.5 119.8V156.9M504.0 113.8V163.3M504.5 120.7V185.3M505.0 119.6V155.2M505.5 120.4V162.3M506.0 118.8V164.2M506.5 119.8V158.3M507.0 117.2V167.6M507.5 117.5V178.1M508.0 120.6V161.6M508.5 120.7V154.7M509.0 124.0V153.1M509.5 117.0V156.0M510.0 109.3V153.8M510.5 116.8V153.8M511.0 120.2V156.9M511.5 119.4V173.3M512.0 121.8V161.3M512.5 119.0V170.0M513.0 122.9V165.4M513.5 123.9V179.8M514.0 121.0V161.3M514.5 121.6V156.0M515.0 113.6V167.7M515.5 120.2V163.5M516.0 116.8V161.0M516.5 121.6V155.4M517.0 121.4V164.8M517.5 118.0V156.5M518.0 117.7V153.1M518.5 123.7V162.9M519.0 119.0V154.5M519.5 112.9V162.6M520.0 118.4V159.9M520.5 117.1V176.9M521.0 115.6V187.6M521.5 122.5V195.2M522.0 121.3V156.8M522.5 119.0V161.5M523.0 117.9V206.9M523.5 119.8V166.8M524.0 124.6V156.0M524.5 122.3V157.7M525.0 123.1V157.9M525.5 124.2V156.9M526.0 117.6V152.3M526.5 110.7V153.0M527.0 116.7V163.3M527.5 112.7V153.1M528.0 119.1V182.2M528.5 120.0V157.1M529.0 115.0V163.6M529.5 124.1V163.4M530.0 119.5V162.0M530.5 123.8V153.2M531.0 115.5V182.8M531.5 116.0V195.4M532.0 121.3V168.9M532.5 120.1V162.1M533.0 115.7V179.8M533.5 118.4V173.1M534.0 118.2V166.4M534.5 112.6V154.7M535.0 123.4V166.2M535.5 119.0V168.1M536.0 113.8V151.2M536.5 118.7V163.4M537.0 119.7V162.8M537.5 117.4V151.6M538.0 118.1V152.5M538.5 119.8V157.3M539.0 123.5V156.9M539.5 121.0V172.5M540.0 113.2V194.1M540.5 120.6V200.0M541.0 120.7V150.8M541.5 112.1V155.5M542.0 119.4V162.5M542.5 120.0V158.8M543.0 122.1V155.4M543.5 115.9V155.4M544.0 121.9V171.6M544.5 116.8V168.6M545.0 112.9V165.9M545.5 121.6V162.8M546.0 113.3V167.2M546.5 122.8V158.1M547.0 118.8V155.5M547.5 111.8V161.8M548.0 120.5V165.8M548.5 113.7V164.1M549.0 119.0V169.4M549.5 116.4V156.2M550.0 108.6V159.6M550.5 111.8V157.8M551.0 119.6V176.6M551.5 111.6V161.5M552.0 119.0V163.4M552.5 116.9V158.1M553.0 110.0V154.9M553.5 117.1V157.6M554.0 113.3V152.0M554.5 118.3V176.0M555.0 116.4V153.8M555.5 112.7V156.7M556.0 118.9V200.1M556.5 122.8V165.3M557.0 119.0V154.6M557.5 123.2V155.9M558.0 115.8V174.6M558.5 115.6V157.8M559.0 115.7V158.9M559.5 119.4V164.7M560.0 120.6V154.8M560.5 118.0V156.6M561.0 121.0V162.5M561.5 116.6V154.8M562.0 117.7V200.0M562.5 117.3V159.5M563.0 120.9V155.9M563.5 117.9V167.7M564.0 116.5V180.8M564.5 110.4V158.1M565.0 117.4V153.4M565.5 121.3V153.0M566.0 120.5V156.2M566.5 116.9V158.8M567.0 122.4V157.7M567.5 111.2V161.0M568.0 119.5V160.2M568.5 120.9V158.8M569.0 120.4V187.2M569.5 121.0V153.3M570.0 123.6V166.2M570.5 119.8V173.7M571.0 119.7V173.9M571.5 125.3V162.3M572.0 116.6V153.2M572.5 114.5V159.9M573.0 123.0V159.6M573.5 120.9V160.5M574.0 120.7V157.2M574.5 122.0V152.7M575.0 118.5V159.0M575.5 115.3V185.1M576.0 120.1V154.7M576.5 120.7V157.7M577.0 113.3V177.4M577.5 115.3V170.2M578.0 113.7V167.5M578.5 125.6V160.1M579.0 124.8V159.9M579.5 123.9V152.9M580.0 123.0V160.5M580.5 122.7V157.6M581.0 122.2V181.7M581.5 122.7V178.9M582.0 123.3V156.9M582.5 114.9V155.3M583.0 120.9V155.1M583.5 118.4V165.6M584.0 120.5V153.3M584.5 117.8V159.3M585.0 116.7V151.8M585.5 124.2V154.7M586.0 111.6V178.6M586.5 121.9V154.6M587.0 110.0V150.1M587.5 117.2V166.6M588.0 121.6V151.5M588.5 114.0V156.5M589.0 121.8V169.4M589.5 117.2V151.9M590.0 115.9V165.2M590.5 123.7V154.1M591.0 119.8V166.1M591.5 119.4V170.1M592.0 120.0V161.2M592.5 121.4V195.0M593.0 118.6V168.4M593.5 122.5V155.5M594.0 109.1V161.1M594.5 118.1V159.1M595.0 122.1V153.6M595.5 120.4V153.3M596.0 118.8V173.3M596.5 113.9V160.2M597.0 117.6V151.3M597.5 113.1V160.9M598.0 113.3V155.9M598.5 118.8V165.1M599.0 118.2V167.2M599.5 119.7V152.9M600.0 118.1V173.1M600.5 116.7V153.3M601.0 114.5V154.6M601.5 117.7V152.4M602.0 114.2V161.6M602.5 120.5V156.6M603.0 116.5V148.6M603.5 117.0V156.7M604.0 117.8V160.1M604.5 118.3V156.8M605.0 119.1V154.6M605.5 118.1V155.2M606.0 118.3V165.7M606.5 117.1V159.0M607.0 114.6V173.7M607.5 116.0V160.7M608.0 115.6V174.5M608.5 116.9V161.5M609.0 115.8V168.1M609.5 115.3V154.5M610.0 114.6V160.3M610.5 115.4V153.1M611.0 115.8V193.8M611.5 115.2V155.6M612.0 114.3V174.8M612.5 113.8V148.3M613.0 113.6V166.7M613.5 113.5V163.8M614.0 112.9V158.4M614.5 112.0V158.4M615.0 111.0V172.0M615.5 112.9V177.7M616.0 112.8V188.1M616.5 110.1V172.3M617.0 110.5V161.7M617.5 111.8V168.7M618.0 108.1V156.2M618.5 107.8V149.6M619.0 107.7V148.6M619.5 106.2V146.7M620.0 108.5V143.5M620.5 107.6V152.6M621.0 108.3V157.9M621.5 107.0V144.3M622.0 105.8V144.1M622.5 105.0V150.1M623.0 104.5V133.8M623.5 104.9V130.9M624.0 101.7V134.8M624.5 103.9V145.6M625.0 102.9V125.4M625.5 102.8V123.6M626.0 101.7V123.4M626.5 102.2V124.4M627.0 100.4V121.9M627.5 100.9V120.9M628.0 102.3V119.3M628.5 99.0V117.1M629.0 98.9V115.9M629.5 97.6V113.3M630.0 98.5V111.0M630.5 99.3V109.0M631.0 98.6V107.3M631.5 96.2V105.9M632.0 97.2V104.9M632.5 95.8V104.2M633.0 98.1V104.0M633.5 98.2V104.0M634.0 95.7V104.0M634.5 96.6V104.0M635.0 96.9V104.0M635.5 95.8V104.0M636.0 97.2V104.0M636.5 98.0V104.0M637.0 95.0V104.0M637.5 97.7V104.0M638.0 94.8V104.0M638.5 95.6V104.0M639.0 96.3V104.0M639.5 95.9V104.0M640.0 95.8V104.0M640.5 96.5V104.0M641.0 96.1V101.2M641.5 96.2V104.0M642.0 97.5V104.0M642.5 95.8V104.0M643.0 95.9V104.0M643.5 95.0V104.0M644.0 96.5V104.0M644.5 95.0V103.9M645.0 96.2V104.0M645.5 95.2V104.0M646.0 95.4V104.0M646.5 97.1V104.0M647.0 95.3V104.0M647.5 96.3V102.9M648.0 94.3V104.0M648.5 94.7V104.0M649.0 95.9V104.0M649.5 94.8V104.0M650.0 96.5V104.0M650.5 94.5V104.0M651.0 96.1V104.0M651.5 95.0V101.8M652.0 94.0V103.8M652.5 94.6V104.0M653.0 93.1V103.9M653.5 95.3V103.1M654.0 96.0V104.0M654.5 95.8V104.0M655.0 95.5V104.0M655.5 96.0V104.0M656.0 95.1V104.0M656.5 96.0V104.0M657.0 96.1V104.0M657.5 94.9V104.0M658.0 96.7V102.5M658.5 96.0V99.0M659.0 94.7V104.0M659.5 96.1V104.0M660.0 97.0V104.0M660.5 96.4V103.7M661.0 95.6V102.4M661.5 95.3V104.0M662.0 96.5V103.8M662.5 95.8V104.0M663.0 96.3V104.0M663.5 97.7V104.0M664.0 93.8V104.0M664.5 94.7V104.0M665.0 95.3V104.0M665.5 93.9V104.0M666.0 94.8V103.5M666.5 96.1V104.0M667.0 96.9V103.7M667.5 96.3V102.8M668.0 95.6V104.0M668.5 95.6V103.3M669.0 95.7V104.0M669.5 96.7V103.3M670.0 94.5V103.7M382 158.2V269.0M399.8 156.6V283.0M419 156.4V260.0M432 157.7V260.0M436.6 155.0V265.0M465.5 158.0V240.0M487.7 158.3V251.0M499 152.4V258.0M503 152.9V246.0M519 154.2V223.0M526.7 154.8V227.0M553 151.6V206.0M559 152.8V257.6M567.8 150.1V212.0M581.8 154.6V186.0M585.3 150.9V227.0M597.3 151.4V215.0M619.5 146.6V179.0M390 157.0V240.0M410 158.0V245.0M450 156.8V235.0M476 158.0V230.0M540 153.3V220.0" stroke="#C922FF" stroke-width="0.85" fill="none"/><polygon points="372,115.6 372.5,126.0 373.0,123.0 373.5,121.2 374.0,118.6 374.5,124.9 375.0,112.6 375.5,121.2 376.0,125.4 376.5,122.7 377.0,122.5 377.5,119.6 378.0,122.3 378.5,120.0 379.0,119.8 379.5,120.3 380.0,124.1 380.5,121.0 381.0,125.2 381.5,121.1 382.0,121.3 382.5,121.9 383.0,119.8 383.5,125.6 384.0,126.3 384.5,118.5 385.0,114.0 385.5,119.5 386.0,123.3 386.5,123.0 387.0,122.1 387.5,119.4 388.0,117.2 388.5,123.6 389.0,115.5 389.5,126.2 390.0,122.9 390.5,117.3 391.0,119.5 391.5,121.5 392.0,123.0 392.5,116.9 393.0,120.3 393.5,123.0 394.0,121.7 394.5,124.0 395.0,122.8 395.5,124.4 396.0,126.0 396.5,123.4 397.0,124.4 397.5,123.6 398.0,122.3 398.5,124.9 399.0,122.3 399.5,125.5 400.0,123.7 400.5,122.1 401.0,119.5 401.5,122.6 402.0,126.4 402.5,124.7 403.0,124.2 403.5,120.7 404.0,125.8 404.5,126.7 405.0,123.4 405.5,126.4 406.0,122.1 406.5,128.3 407.0,125.9 407.5,125.2 408.0,116.3 408.5,125.9 409.0,125.7 409.5,128.3 410.0,126.3 410.5,128.4 411.0,126.3 411.5,129.3 412.0,120.8 412.5,125.0 413.0,125.2 413.5,125.0 414.0,127.0 414.5,122.7 415.0,120.1 415.5,127.7 416.0,122.1 416.5,125.2 417.0,125.6 417.5,122.4 418.0,125.4 418.5,125.3 419.0,123.4 419.5,126.5 420.0,125.3 420.5,122.8 421.0,123.8 421.5,123.6 422.0,127.8 422.5,119.4 423.0,125.8 423.5,126.4 424.0,117.0 424.5,118.3 425.0,125.4 425.5,124.8 426.0,121.5 426.5,123.4 427.0,116.8 427.5,116.5 428.0,124.7 428.5,120.8 429.0,125.2 429.5,116.1 430.0,114.4 430.5,123.0 431.0,124.9 431.5,122.1 432.0,122.8 432.5,123.9 433.0,122.1 433.5,122.7 434.0,123.4 434.5,118.3 435.0,125.7 435.5,112.2 436.0,115.9 436.5,128.1 437.0,122.8 437.5,120.8 438.0,125.9 438.5,125.0 439.0,124.3 439.5,118.1 440.0,122.6 440.5,123.8 441.0,115.4 441.5,124.9 442.0,122.5 442.5,124.8 443.0,123.6 443.5,122.9 444.0,121.6 444.5,119.7 445.0,124.2 445.5,115.5 446.0,115.2 446.5,125.1 447.0,125.3 447.5,114.0 448.0,122.2 448.5,125.8 449.0,117.0 449.5,124.2 450.0,122.7 450.5,119.6 451.0,125.2 451.5,122.6 452.0,121.8 452.5,124.0 453.0,128.2 453.5,129.0 454.0,124.3 454.5,120.8 455.0,122.5 455.5,120.2 456.0,125.4 456.5,116.8 457.0,128.5 457.5,120.9 458.0,118.2 458.5,112.7 459.0,120.5 459.5,125.0 460.0,122.4 460.5,124.5 461.0,124.1 461.5,123.5 462.0,124.8 462.5,123.7 463.0,119.8 463.5,124.7 464.0,126.2 464.5,124.9 465.0,121.8 465.5,127.3 466.0,115.8 466.5,119.4 467.0,121.0 467.5,127.1 468.0,129.0 468.5,126.8 469.0,127.1 469.5,123.8 470.0,119.7 470.5,120.1 471.0,125.4 471.5,122.0 472.0,129.0 472.5,127.9 473.0,127.4 473.5,119.1 474.0,122.0 474.5,118.5 475.0,123.4 475.5,120.1 476.0,125.5 476.5,126.8 477.0,114.8 477.5,123.8 478.0,121.0 478.5,122.6 479.0,119.5 479.5,123.3 480.0,120.2 480.5,121.4 481.0,123.4 481.5,116.8 482.0,120.7 482.5,118.8 483.0,116.1 483.5,121.7 484.0,122.6 484.5,120.4 485.0,122.6 485.5,123.0 486.0,119.8 486.5,106.7 487.0,115.1 487.5,122.3 488.0,120.9 488.5,121.4 489.0,113.3 489.5,122.4 490.0,118.6 490.5,116.8 491.0,118.5 491.5,122.5 492.0,119.9 492.5,118.5 493.0,122.2 493.5,118.2 494.0,112.4 494.5,119.1 495.0,117.6 495.5,122.9 496.0,113.7 496.5,123.7 497.0,118.2 497.5,119.5 498.0,119.8 498.5,119.0 499.0,118.8 499.5,118.0 500.0,119.6 500.5,121.3 501.0,117.1 501.5,119.4 502.0,111.0 502.5,122.1 503.0,111.3 503.5,121.3 504.0,115.3 504.5,122.2 505.0,121.1 505.5,121.9 506.0,120.3 506.5,121.3 507.0,118.7 507.5,119.0 508.0,122.1 508.5,122.2 509.0,125.5 509.5,118.5 510.0,110.8 510.5,118.3 511.0,121.7 511.5,120.9 512.0,123.3 512.5,120.5 513.0,124.4 513.5,125.4 514.0,122.5 514.5,123.1 515.0,115.1 515.5,121.7 516.0,118.3 516.5,123.1 517.0,122.9 517.5,119.5 518.0,119.2 518.5,125.2 519.0,120.5 519.5,114.4 520.0,119.9 520.5,118.6 521.0,117.1 521.5,124.0 522.0,122.8 522.5,120.5 523.0,119.4 523.5,121.3 524.0,126.1 524.5,123.8 525.0,124.6 525.5,125.7 526.0,119.1 526.5,112.2 527.0,118.2 527.5,114.2 528.0,120.6 528.5,121.5 529.0,116.5 529.5,125.6 530.0,121.0 530.5,125.3 531.0,117.0 531.5,117.5 532.0,122.8 532.5,121.6 533.0,117.2 533.5,119.9 534.0,119.7 534.5,114.1 535.0,124.9 535.5,120.5 536.0,115.3 536.5,120.2 537.0,121.2 537.5,118.9 538.0,119.6 538.5,121.3 539.0,125.0 539.5,122.5 540.0,114.7 540.5,122.1 541.0,122.2 541.5,113.6 542.0,120.9 542.5,121.5 543.0,123.6 543.5,117.4 544.0,123.4 544.5,118.3 545.0,114.4 545.5,123.1 546.0,114.8 546.5,124.3 547.0,120.3 547.5,113.3 548.0,122.0 548.5,115.2 549.0,120.5 549.5,117.9 550.0,110.1 550.5,113.3 551.0,121.1 551.5,113.1 552.0,120.5 552.5,118.4 553.0,111.5 553.5,118.6 554.0,114.8 554.5,119.8 555.0,117.9 555.5,114.2 556.0,120.4 556.5,124.3 557.0,120.5 557.5,124.7 558.0,117.3 558.5,117.1 559.0,117.2 559.5,120.9 560.0,122.1 560.5,119.5 561.0,122.5 561.5,118.1 562.0,119.2 562.5,118.8 563.0,122.4 563.5,119.4 564.0,118.0 564.5,111.9 565.0,118.9 565.5,122.8 566.0,122.0 566.5,118.4 567.0,123.9 567.5,112.7 568.0,121.0 568.5,122.4 569.0,121.9 569.5,122.5 570.0,125.1 570.5,121.3 571.0,121.2 571.5,126.8 572.0,118.1 572.5,116.0 573.0,124.5 573.5,122.4 574.0,122.2 574.5,123.5 575.0,120.0 575.5,116.8 576.0,121.6 576.5,122.2 577.0,114.8 577.5,116.8 578.0,115.2 578.5,127.1 579.0,126.3 579.5,125.4 580.0,124.5 580.5,124.2 581.0,123.7 581.5,124.2 582.0,124.8 582.5,116.4 583.0,122.4 583.5,119.9 584.0,122.0 584.5,119.3 585.0,118.2 585.5,125.7 586.0,113.1 586.5,123.4 587.0,111.5 587.5,118.7 588.0,123.1 588.5,115.5 589.0,123.3 589.5,118.7 590.0,117.4 590.5,125.2 591.0,121.3 591.5,120.9 592.0,121.5 592.5,122.9 593.0,120.1 593.5,124.0 594.0,110.6 594.5,119.6 595.0,123.6 595.5,121.9 596.0,120.3 596.5,115.4 597.0,119.1 597.5,114.6 598.0,114.8 598.5,120.3 599.0,119.7 599.5,121.2 600.0,119.6 600.5,118.2 601.0,116.0 601.5,119.2 602.0,115.7 602.5,122.0 603.0,118.0 603.5,118.5 604.0,119.3 604.5,119.8 605.0,120.6 605.5,119.6 606.0,119.8 606.5,118.6 607.0,116.1 607.5,117.5 608.0,117.1 608.5,118.4 609.0,117.3 609.5,116.8 610.0,116.1 610.5,116.9 611.0,117.3 611.5,116.7 612.0,115.8 612.5,115.3 613.0,115.1 613.5,115.0 614.0,114.4 614.5,113.5 615.0,112.5 615.5,114.4 616.0,114.3 616.5,111.6 617.0,112.0 617.5,113.3 618.0,109.6 618.5,109.3 619.0,109.2 619.5,107.7 620.0,110.0 620.5,109.1 621.0,109.8 621.5,108.5 622.0,107.3 622.5,106.5 623.0,106.0 623.5,106.4 624.0,103.2 624.5,105.4 625.0,104.4 625.5,104.3 626.0,103.2 626.5,103.7 627.0,101.9 627.5,102.4 628.0,103.8 628.5,100.5 629.0,100.4 629.5,99.1 630.0,100.0 630.5,100.8 631.0,100.1 631.5,97.7 632.0,98.7 632.5,97.3 633.0,99.6 633.5,99.7 634.0,97.2 634.5,98.1 635.0,98.4 635.5,97.3 636.0,98.7 636.5,99.5 637.0,96.5 637.5,99.2 638.0,96.3 638.5,97.1 639.0,97.8 639.5,97.4 640.0,97.3 640.5,98.0 641.0,97.6 641.5,97.7 642.0,99.0 642.5,97.3 643.0,97.4 643.5,96.5 644.0,98.0 644.5,96.5 645.0,97.7 645.5,96.7 646.0,96.9 646.5,98.6 647.0,96.8 647.5,97.8 648.0,95.8 648.5,96.2 649.0,97.4 649.5,96.3 650.0,98.0 650.5,96.0 651.0,97.6 651.5,96.5 652.0,95.5 652.5,96.1 653.0,94.6 653.5,96.8 654.0,97.5 654.5,97.3 655.0,97.0 655.5,97.5 656.0,96.6 656.5,97.5 657.0,97.6 657.5,96.4 658.0,98.2 658.5,97.5 659.0,96.2 659.5,97.6 660.0,98.5 660.5,97.9 661.0,97.1 661.5,96.8 662.0,98.0 662.5,97.3 663.0,97.8 663.5,99.2 664.0,95.3 664.5,96.2 665.0,96.8 665.5,95.4 666.0,96.3 666.5,97.6 667.0,98.4 667.5,97.8 668.0,97.1 668.5,97.1 669.0,97.2 669.5,98.2 670.0,96.0 670.0,103.7 669.5,103.3 669.0,108.2 668.5,103.3 668.0,105.4 667.5,102.8 667.0,103.7 666.5,104.9 666.0,103.5 665.5,106.2 665.0,106.8 664.5,104.6 664.0,109.4 663.5,105.9 663.0,107.1 662.5,105.4 662.0,103.8 661.5,106.7 661.0,102.4 660.5,103.7 660.0,104.2 659.5,106.3 659.0,104.1 658.5,99.0 658.0,102.5 657.5,105.7 657.0,105.2 656.5,106.9 656.0,105.3 655.5,104.9 655.0,105.1 654.5,104.2 654.0,104.5 653.5,103.1 653.0,103.9 652.5,104.9 652.0,103.8 651.5,101.8 651.0,104.8 650.5,105.8 650.0,104.5 649.5,105.9 649.0,107.3 648.5,107.5 648.0,106.8 647.5,102.9 647.0,107.0 646.5,105.6 646.0,106.4 645.5,106.0 645.0,104.4 644.5,103.9 644.0,108.2 643.5,107.3 643.0,105.1 642.5,106.9 642.0,105.8 641.5,105.5 641.0,101.2 640.5,106.7 640.0,104.5 639.5,107.7 639.0,108.8 638.5,107.4 638.0,108.3 637.5,107.6 637.0,107.4 636.5,106.1 636.0,109.9 635.5,108.5 635.0,105.9 634.5,105.1 634.0,106.9 633.5,107.7 633.0,109.5 632.5,110.9 632.0,108.6 631.5,112.1 631.0,113.6 630.5,111.2 630.0,114.0 629.5,112.7 629.0,115.1 628.5,116.9 628.0,116.0 627.5,118.6 627.0,120.4 626.5,122.1 626.0,119.9 625.5,122.8 625.0,123.7 624.5,130.0 624.0,131.3 623.5,130.6 623.0,131.9 622.5,138.5 622.0,140.6 621.5,142.4 621.0,142.6 620.5,147.3 620.0,142.6 619.5,144.2 619.0,147.6 618.5,147.7 618.0,148.7 617.5,149.9 617.0,153.5 616.5,149.5 616.0,158.1 615.5,154.2 615.0,150.1 614.5,153.1 614.0,151.9 613.5,154.1 613.0,154.5 612.5,147.1 612.0,154.7 611.5,151.3 611.0,151.8 610.5,151.6 610.0,154.0 609.5,151.8 609.0,150.2 608.5,156.1 608.0,151.5 607.5,154.8 607.0,155.7 606.5,155.4 606.0,153.6 605.5,152.1 605.0,153.3 604.5,150.0 604.0,148.8 603.5,154.2 603.0,148.3 602.5,151.9 602.0,151.8 601.5,151.7 601.0,153.7 600.5,152.6 600.0,154.0 599.5,151.9 599.0,152.0 598.5,151.9 598.0,155.0 597.5,147.8 597.0,150.2 596.5,149.5 596.0,153.5 595.5,152.0 595.0,151.0 594.5,151.6 594.0,150.7 593.5,152.1 593.0,152.3 592.5,157.4 592.0,152.2 591.5,157.0 591.0,150.4 590.5,154.1 590.0,150.3 589.5,149.7 589.0,153.9 588.5,150.1 588.0,150.3 587.5,155.7 587.0,148.8 586.5,151.0 586.0,154.9 585.5,150.1 585.0,150.2 584.5,153.1 584.0,153.2 583.5,152.2 583.0,153.3 582.5,151.5 582.0,150.3 581.5,151.6 581.0,153.9 580.5,154.0 580.0,153.7 579.5,150.6 579.0,157.5 578.5,150.7 578.0,153.4 577.5,151.4 577.0,151.0 576.5,150.9 576.0,148.8 575.5,153.9 575.0,151.8 574.5,152.4 574.0,149.7 573.5,152.9 573.0,152.5 572.5,151.3 572.0,150.1 571.5,154.6 571.0,153.6 570.5,150.9 570.0,156.4 569.5,152.9 569.0,148.4 568.5,150.5 568.0,152.0 567.5,149.2 567.0,153.0 566.5,154.6 566.0,155.6 565.5,150.3 565.0,153.3 564.5,150.2 564.0,150.3 563.5,151.4 563.0,155.4 562.5,150.5 562.0,154.3 561.5,151.3 561.0,153.2 560.5,150.5 560.0,152.3 559.5,151.0 559.0,154.1 558.5,153.0 558.0,151.4 557.5,154.2 557.0,152.9 556.5,151.1 556.0,152.4 555.5,153.0 555.0,152.5 554.5,155.9 554.0,149.5 553.5,148.9 553.0,151.4 552.5,152.6 552.0,149.9 551.5,151.8 551.0,152.5 550.5,154.1 550.0,155.5 549.5,152.6 549.0,154.4 548.5,155.8 548.0,152.2 547.5,150.7 547.0,150.9 546.5,151.2 546.0,152.2 545.5,152.1 545.0,154.7 544.5,151.7 544.0,152.0 543.5,151.2 543.0,152.3 542.5,152.5 542.0,151.4 541.5,155.2 541.0,148.4 540.5,153.5 540.0,148.6 539.5,149.3 539.0,153.7 538.5,153.7 538.0,150.2 537.5,150.1 537.0,159.2 536.5,155.9 536.0,149.5 535.5,151.3 535.0,151.8 534.5,151.3 534.0,152.5 533.5,154.1 533.0,154.7 532.5,149.9 532.0,152.5 531.5,151.3 531.0,152.7 530.5,151.3 530.0,154.4 529.5,153.9 529.0,152.8 528.5,152.1 528.0,153.2 527.5,152.7 527.0,153.9 526.5,152.0 526.0,151.4 525.5,151.3 525.0,149.3 524.5,156.0 524.0,155.3 523.5,151.9 523.0,156.4 522.5,153.0 522.0,154.2 521.5,153.6 521.0,151.9 520.5,156.8 520.0,155.7 519.5,156.3 519.0,153.4 518.5,156.7 518.0,152.3 517.5,153.5 517.0,156.8 516.5,150.2 516.0,154.7 515.5,151.8 515.0,156.8 514.5,155.0 514.0,152.8 513.5,152.8 513.0,152.7 512.5,152.8 512.0,158.5 511.5,156.9 511.0,149.9 510.5,152.8 510.0,151.3 509.5,155.8 509.0,151.8 508.5,154.5 508.0,158.0 507.5,152.1 507.0,155.0 506.5,154.6 506.0,158.1 505.5,156.6 505.0,152.3 504.5,155.6 504.0,155.5 503.5,153.4 503.0,157.0 502.5,153.4 502.0,158.6 501.5,156.6 501.0,153.9 500.5,153.1 500.0,157.0 499.5,154.0 499.0,153.1 498.5,156.4 498.0,151.9 497.5,154.7 497.0,155.0 496.5,156.2 496.0,157.6 495.5,158.0 495.0,153.4 494.5,156.5 494.0,155.9 493.5,154.3 493.0,155.2 492.5,154.5 492.0,162.0 491.5,157.1 491.0,155.6 490.5,156.5 490.0,153.9 489.5,160.0 489.0,152.3 488.5,151.2 488.0,153.4 487.5,158.4 487.0,157.1 486.5,156.8 486.0,156.9 485.5,153.3 485.0,155.4 484.5,156.4 484.0,156.5 483.5,156.4 483.0,156.9 482.5,153.1 482.0,151.8 481.5,153.9 481.0,158.7 480.5,157.0 480.0,155.8 479.5,152.5 479.0,156.5 478.5,157.1 478.0,155.4 477.5,159.0 477.0,160.5 476.5,155.3 476.0,152.4 475.5,154.1 475.0,160.9 474.5,153.6 474.0,156.5 473.5,157.4 473.0,158.4 472.5,158.1 472.0,157.8 471.5,158.3 471.0,160.4 470.5,157.2 470.0,158.4 469.5,159.7 469.0,158.8 468.5,160.4 468.0,155.3 467.5,156.8 467.0,155.7 466.5,160.6 466.0,154.4 465.5,158.7 465.0,156.0 464.5,155.8 464.0,157.7 463.5,159.2 463.0,155.3 462.5,157.7 462.0,155.7 461.5,156.3 461.0,160.1 460.5,159.5 460.0,156.1 459.5,160.8 459.0,154.8 458.5,157.9 458.0,155.3 457.5,158.0 457.0,159.4 456.5,155.5 456.0,160.6 455.5,158.6 455.0,158.2 454.5,157.1 454.0,155.8 453.5,161.9 453.0,155.2 452.5,156.2 452.0,155.3 451.5,155.0 451.0,160.0 450.5,159.4 450.0,159.0 449.5,153.0 449.0,157.4 448.5,156.9 448.0,155.1 447.5,158.6 447.0,156.4 446.5,157.0 446.0,159.7 445.5,160.2 445.0,156.2 444.5,155.4 444.0,159.9 443.5,157.9 443.0,157.8 442.5,161.3 442.0,160.3 441.5,156.1 441.0,157.3 440.5,158.8 440.0,156.3 439.5,159.1 439.0,156.5 438.5,153.0 438.0,156.4 437.5,158.7 437.0,158.4 436.5,157.4 436.0,157.1 435.5,158.2 435.0,156.7 434.5,158.4 434.0,153.2 433.5,160.0 433.0,153.0 432.5,160.1 432.0,158.9 431.5,160.2 431.0,157.0 430.5,158.7 430.0,159.1 429.5,159.2 429.0,158.7 428.5,156.9 428.0,156.7 427.5,159.7 427.0,159.1 426.5,159.3 426.0,158.0 425.5,160.9 425.0,156.2 424.5,152.7 424.0,153.5 423.5,159.7 423.0,159.4 422.5,155.1 422.0,158.9 421.5,158.4 421.0,158.7 420.5,157.3 420.0,160.0 419.5,157.7 419.0,158.6 418.5,161.8 418.0,157.5 417.5,154.9 417.0,157.3 416.5,154.7 416.0,157.4 415.5,160.5 415.0,158.8 414.5,155.4 414.0,154.5 413.5,157.9 413.0,156.8 412.5,159.5 412.0,158.1 411.5,154.7 411.0,157.3 410.5,158.1 410.0,159.8 409.5,158.2 409.0,157.1 408.5,159.2 408.0,155.9 407.5,159.6 407.0,157.9 406.5,159.3 406.0,155.6 405.5,155.4 405.0,155.5 404.5,157.6 404.0,157.0 403.5,157.7 403.0,153.4 402.5,155.1 402.0,162.0 401.5,157.9 401.0,153.7 400.5,158.4 400.0,158.1 399.5,161.5 399.0,155.1 398.5,154.0 398.0,158.2 397.5,156.6 397.0,160.1 396.5,156.8 396.0,158.4 395.5,158.0 395.0,160.6 394.5,161.9 394.0,161.1 393.5,158.0 393.0,155.0 392.5,160.3 392.0,159.0 391.5,160.9 391.0,156.5 390.5,159.6 390.0,158.5 389.5,153.5 389.0,156.8 388.5,158.8 388.0,156.2 387.5,153.8 387.0,162.6 386.5,156.7 386.0,158.4 385.5,161.3 385.0,158.6 384.5,156.2 384.0,158.5 383.5,157.5 383.0,154.3 382.5,158.4 382.0,157.2 381.5,159.3 381.0,155.1 380.5,158.6 380.0,160.6 379.5,161.1 379.0,161.1 378.5,157.2 378.0,161.0 377.5,159.4 377.0,156.8 376.5,156.8 376.0,157.3 375.5,160.1 375.0,154.4 374.5,157.7 374.0,155.7 373.5,156.0 373.0,154.8 372.5,157.6 372,157.2" fill="#C922FF"/>
<line x1="40.5" y1="98.9" x2="335.5" y2="98.9" stroke="#1400FA" stroke-width="2" stroke-dasharray="2 3.96"/><line x1="41" y1="108.7" x2="337" y2="108.7" stroke="#DDDDDD" stroke-width="1.8" stroke-dasharray="4.5 5.5"/><line x1="41" y1="108.7" x2="337" y2="108.7" stroke="#F42A8C" stroke-width="1.8" stroke-dasharray="4.9 4.45 1.5 4.45 1.5 5.03"/><rect x="103" y="85" width="237.5" height="4" fill="#F42A8C" stroke="none" stroke-width="0" /><rect x="269" y="71.3" width="71.5" height="4" fill="#1400FA" stroke="none" stroke-width="0" /><text x="203.9" y="81.6" font-size="13" font-weight="bold" fill="#F42A8C" text-anchor="start" textLength="22.5" lengthAdjust="spacingAndGlyphs" stroke="#F42A8C" stroke-width="0.35">TTX</text><text x="296.3" y="68.3" font-size="13" font-weight="bold" fill="#1400FA" text-anchor="start" textLength="17.3" lengthAdjust="spacingAndGlyphs" stroke="#1400FA" stroke-width="0.35">Bic</text><text x="161.7" y="41" font-size="18" font-weight="bold" fill="#4BAAB3" text-anchor="start" textLength="57.2" lengthAdjust="spacingAndGlyphs" stroke="#4BAAB3" stroke-width="0.4">Control</text><line x1="371.2" y1="99.6" x2="666.5" y2="99.6" stroke="#1400FA" stroke-width="2" stroke-dasharray="2 3.97"/><line x1="372.2" y1="141.6" x2="671" y2="141.6" stroke="#DDDDDD" stroke-width="1.8" stroke-dasharray="5.2 4.73"/><line x1="372.2" y1="134.5" x2="668" y2="134.5" stroke="#F42A8C" stroke-width="1.8" stroke-dasharray="4.9 4.45 1.5 4.45 1.5 5.03"/><rect x="445.3" y="82.8" width="226.3" height="4.3" fill="#F42A8C" stroke="none" stroke-width="0" /><rect x="591.9" y="69.8" width="79.7" height="4" fill="#1400FA" stroke="none" stroke-width="0" /><text x="530.2" y="79.6" font-size="13" font-weight="bold" fill="#F42A8C" text-anchor="start" textLength="22.5" lengthAdjust="spacingAndGlyphs" stroke="#F42A8C" stroke-width="0.35">TTX</text><text x="623.2" y="66.8" font-size="13" font-weight="bold" fill="#1400FA" text-anchor="start" textLength="17.4" lengthAdjust="spacingAndGlyphs" stroke="#1400FA" stroke-width="0.35">Bic</text><text x="444.7" y="41.5" font-size="18" font-weight="bold" fill="#C52EF0" text-anchor="start" textLength="153" lengthAdjust="spacingAndGlyphs" stroke="#C52EF0" stroke-width="0.4">General GABA-T KD</text><path d="M632.2 215V247.4H664" stroke="#111" stroke-width="1.7" fill="none"/><text x="603" y="234.5" font-size="9.3" font-weight="bold" fill="#222" text-anchor="start" textLength="25.2" lengthAdjust="spacingAndGlyphs" stroke="#222" stroke-width="0.3">50 pA</text><text x="639.6" y="260.7" font-size="9.3" font-weight="bold" fill="#222" text-anchor="start" textLength="16.9" lengthAdjust="spacingAndGlyphs" stroke="#222" stroke-width="0.3">50 s</text><text x="1.2" y="12" font-size="19.5" font-weight="bold" fill="#000" text-anchor="start" textLength="10" lengthAdjust="spacingAndGlyphs" stroke="#000" stroke-width="0.5">a</text><text x="1.5" y="312" font-size="19" font-weight="bold" fill="#000" text-anchor="start" textLength="10.6" lengthAdjust="spacingAndGlyphs" stroke="#000" stroke-width="0.5">b</text><text x="257.6" y="310.3" font-size="19" font-weight="bold" fill="#000" text-anchor="start" textLength="9.6" lengthAdjust="spacingAndGlyphs" stroke="#000" stroke-width="0.5">c</text><path d="M75.2 336.6V483.8H219" stroke="#2a2a2a" stroke-width="1.8" fill="none"/><line x1="69.2" y1="483.8" x2="75.2" y2="483.8" stroke="#2a2a2a" stroke-width="1.8" /><text x="67.8" y="487.40000000000003" font-size="10.2" font-weight="bold" fill="#1a1a1a" text-anchor="end" stroke="#1a1a1a" stroke-width="0.25">0</text><line x1="69.2" y1="454.39" x2="75.2" y2="454.39" stroke="#2a2a2a" stroke-width="1.8" /><text x="67.8" y="457.99" font-size="10.2" font-weight="bold" fill="#1a1a1a" text-anchor="end" stroke="#1a1a1a" stroke-width="0.25">20</text><line x1="69.2" y1="424.98" x2="75.2" y2="424.98" stroke="#2a2a2a" stroke-width="1.8" /><text x="67.8" y="428.58000000000004" font-size="10.2" font-weight="bold" fill="#1a1a1a" text-anchor="end" stroke="#1a1a1a" stroke-width="0.25">40</text><line x1="69.2" y1="395.57" x2="75.2" y2="395.57" stroke="#2a2a2a" stroke-width="1.8" /><text x="67.8" y="399.17" font-size="10.2" font-weight="bold" fill="#1a1a1a" text-anchor="end" stroke="#1a1a1a" stroke-width="0.25">60</text><line x1="69.2" y1="366.16" x2="75.2" y2="366.16" stroke="#2a2a2a" stroke-width="1.8" /><text x="67.8" y="369.76000000000005" font-size="10.2" font-weight="bold" fill="#1a1a1a" text-anchor="end" stroke="#1a1a1a" stroke-width="0.25">80</text><line x1="69.2" y1="336.75" x2="75.2" y2="336.75" stroke="#2a2a2a" stroke-width="1.8" /><text x="67.8" y="340.35" font-size="10.2" font-weight="bold" fill="#1a1a1a" text-anchor="end" stroke="#1a1a1a" stroke-width="0.25">100</text><text transform="translate(43.4,410.8) rotate(-90)" font-size="13" font-weight="bold" fill="#1a1a1a" stroke="#1a1a1a" stroke-width="0.3" text-anchor="middle" textLength="140.4" lengthAdjust="spacingAndGlyphs">Tonic GABA current [pA]</text><rect x="82.8" y="341.7" width="13.1" height="7.2" fill="#74F2E0" stroke="#48B6B8" stroke-width="1.6" /><rect x="82.8" y="369.0" width="13.1" height="6.8" fill="#DD8AFA" stroke="#C724F2" stroke-width="1.6" /><text x="106" y="349.1" font-size="10.3" font-weight="bold" fill="#4BAAB3" text-anchor="start" textLength="36" lengthAdjust="spacingAndGlyphs" stroke="#4BAAB3" stroke-width="0.3">Control</text><text x="106" y="368.9" font-size="10.3" font-weight="bold" fill="#C52EF0" text-anchor="start" textLength="37.9" lengthAdjust="spacingAndGlyphs" stroke="#C52EF0" stroke-width="0.3">General</text><text x="106" y="383.4" font-size="10.3" font-weight="bold" fill="#C52EF0" text-anchor="start" textLength="54.3" lengthAdjust="spacingAndGlyphs" stroke="#C52EF0" stroke-width="0.3">GABA-T KD</text><rect x="85.9" y="481.759" width="17.900000000000002" height="2.040999999999974" fill="#74F2E0" stroke="#48B6B8" stroke-width="1.8" /><rect x="114.2" y="474.7006" width="17.400000000000002" height="9.09939999999998" fill="#DD8AFA" stroke="#C724F2" stroke-width="1.8" /><rect x="162.1" y="471.02434999999997" width="17.300000000000022" height="12.775650000000018" fill="#74F2E0" stroke="#48B6B8" stroke-width="1.8" /><rect x="190.20000000000002" y="433.96774999999997" width="17.899999999999988" height="49.83225000000002" fill="#DD8AFA" stroke="#C724F2" stroke-width="1.8" /><path d="M170.4 470.12435V466.7M165.6 466.7H175.20000000000002" stroke="#48B6B8" stroke-width="1.6" fill="none"/><path d="M199.3 433.06775V423.6M194.65 423.6H203.95000000000002" stroke="#C724F2" stroke-width="1.6" fill="none"/><path d="M94.8 480.85900000000004V479.3885M91.8 479.3885H97.8" stroke="#48B6B8" stroke-width="1.6" fill="none"/><path d="M122.9 473.80060000000003V471.7419M119.9 471.7419H125.9" stroke="#C724F2" stroke-width="1.6" fill="none"/><circle cx="86.1" cy="483.5" r="1.75" fill="#74F2E0" stroke="#48B6B8" stroke-width="1.6"/><circle cx="90.1" cy="477.9" r="1.75" fill="#74F2E0" stroke="#48B6B8" stroke-width="1.6"/><circle cx="94" cy="479.5" r="1.75" fill="#74F2E0" stroke="#48B6B8" stroke-width="1.6"/><circle cx="98.4" cy="476.9" r="1.75" fill="#74F2E0" stroke="#48B6B8" stroke-width="1.6"/><circle cx="102.3" cy="479.5" r="1.75" fill="#74F2E0" stroke="#48B6B8" stroke-width="1.6"/><circle cx="90.5" cy="482.6" r="1.75" fill="#74F2E0" stroke="#48B6B8" stroke-width="1.6"/><circle cx="94.4" cy="482.6" r="1.75" fill="#74F2E0" stroke="#48B6B8" stroke-width="1.6"/><circle cx="98.4" cy="482.6" r="1.75" fill="#74F2E0" stroke="#48B6B8" stroke-width="1.6"/><circle cx="102.6" cy="483.9" r="1.75" fill="#74F2E0" stroke="#48B6B8" stroke-width="1.6"/><circle cx="117.2" cy="466.4" r="1.75" fill="#DD8AFA" stroke="#C724F2" stroke-width="1.6"/><circle cx="122.9" cy="469" r="1.75" fill="#DD8AFA" stroke="#C724F2" stroke-width="1.6"/><circle cx="128.6" cy="468.1" r="1.75" fill="#DD8AFA" stroke="#C724F2" stroke-width="1.6"/><circle cx="117.2" cy="471.6" r="1.75" fill="#DD8AFA" stroke="#C724F2" stroke-width="1.6"/><circle cx="122.9" cy="472.1" r="1.75" fill="#DD8AFA" stroke="#C724F2" stroke-width="1.6"/><circle cx="128.6" cy="471.2" r="1.75" fill="#DD8AFA" stroke="#C724F2" stroke-width="1.6"/><circle cx="117.2" cy="480.8" r="1.75" fill="#DD8AFA" stroke="#C724F2" stroke-width="1.6"/><circle cx="122.9" cy="478.2" r="1.75" fill="#DD8AFA" stroke="#C724F2" stroke-width="1.6"/><circle cx="128.6" cy="477.3" r="1.75" fill="#DD8AFA" stroke="#C724F2" stroke-width="1.6"/><circle cx="128.6" cy="480.8" r="1.75" fill="#DD8AFA" stroke="#C724F2" stroke-width="1.6"/><circle cx="170.4" cy="452.3" r="1.75" fill="#74F2E0" stroke="#48B6B8" stroke-width="1.6"/><circle cx="170.4" cy="458.9" r="1.75" fill="#74F2E0" stroke="#48B6B8" stroke-width="1.6"/><circle cx="170.4" cy="462.7" r="1.75" fill="#74F2E0" stroke="#48B6B8" stroke-width="1.6"/><circle cx="170.4" cy="469.6" r="1.75" fill="#74F2E0" stroke="#48B6B8" stroke-width="1.6"/><circle cx="167.7" cy="473.3" r="1.75" fill="#74F2E0" stroke="#48B6B8" stroke-width="1.6"/><circle cx="173.5" cy="473.8" r="1.75" fill="#74F2E0" stroke="#48B6B8" stroke-width="1.6"/><circle cx="167.7" cy="476.7" r="1.75" fill="#74F2E0" stroke="#48B6B8" stroke-width="1.6"/><circle cx="173.5" cy="478.7" r="1.75" fill="#74F2E0" stroke="#48B6B8" stroke-width="1.6"/><circle cx="170.4" cy="484.3" r="1.75" fill="#74F2E0" stroke="#48B6B8" stroke-width="1.6"/><circle cx="199.3" cy="363.5" r="1.75" fill="#DD8AFA" stroke="#C724F2" stroke-width="1.6"/><circle cx="199.3" cy="405.8" r="1.75" fill="#DD8AFA" stroke="#C724F2" stroke-width="1.6"/><circle cx="196.5" cy="436.6" r="1.75" fill="#DD8AFA" stroke="#C724F2" stroke-width="1.6"/><circle cx="202" cy="436.6" r="1.75" fill="#DD8AFA" stroke="#C724F2" stroke-width="1.6"/><circle cx="199.3" cy="434.5" r="1.75" fill="#DD8AFA" stroke="#C724F2" stroke-width="1.6"/><circle cx="196.5" cy="440" r="1.75" fill="#DD8AFA" stroke="#C724F2" stroke-width="1.6"/><circle cx="202" cy="440" r="1.75" fill="#DD8AFA" stroke="#C724F2" stroke-width="1.6"/><circle cx="199.3" cy="442.6" r="1.75" fill="#DD8AFA" stroke="#C724F2" stroke-width="1.6"/><circle cx="199.3" cy="450.1" r="1.75" fill="#DD8AFA" stroke="#C724F2" stroke-width="1.6"/><circle cx="199.3" cy="454.1" r="1.75" fill="#DD8AFA" stroke="#C724F2" stroke-width="1.6"/><circle cx="199.3" cy="458.3" r="1.75" fill="#DD8AFA" stroke="#C724F2" stroke-width="1.6"/><path d="M94.2 454.2V446.2H123V454.2" stroke="#2a2a2a" stroke-width="1.8" fill="none"/><text x="108.6" y="439.2" font-size="12" font-weight="normal" fill="#1a1a1a" text-anchor="middle" stroke="#1a1a1a" stroke-width="0.2">ns</text><path d="M170.5 355V346.7H199.3V355" stroke="#2a2a2a" stroke-width="1.8" fill="none"/><path d="M172.30 340.50L172.30 333.50M169.27 338.75L175.33 335.25M169.27 335.25L175.33 338.75" stroke="#111" stroke-width="1.9" fill="none"/><circle cx="172.3" cy="337" r="1.6" fill="#111"/><path d="M181.30 340.50L181.30 333.50M178.27 338.75L184.33 335.25M178.27 335.25L184.33 338.75" stroke="#111" stroke-width="1.9" fill="none"/><circle cx="181.3" cy="337" r="1.6" fill="#111"/><path d="M190.30 340.50L190.30 333.50M187.27 338.75L193.33 335.25M187.27 335.25L193.33 338.75" stroke="#111" stroke-width="1.9" fill="none"/><circle cx="190.3" cy="337" r="1.6" fill="#111"/><path d="M199.30 340.50L199.30 333.50M196.27 338.75L202.33 335.25M196.27 335.25L202.33 338.75" stroke="#111" stroke-width="1.9" fill="none"/><circle cx="199.3" cy="337" r="1.6" fill="#111"/><text x="108.8" y="507.2" font-size="13.1" font-weight="bold" fill="#1a1a1a" text-anchor="middle" textLength="24.7" lengthAdjust="spacingAndGlyphs" stroke="#1a1a1a" stroke-width="0.3">TTX-</text><text x="108.3" y="521.9" font-size="13.1" font-weight="bold" fill="#1a1a1a" text-anchor="middle" textLength="48.8" lengthAdjust="spacingAndGlyphs" stroke="#1a1a1a" stroke-width="0.3">sensitive</text><text x="184.8" y="507.2" font-size="13.1" font-weight="bold" fill="#1a1a1a" text-anchor="middle" textLength="25.6" lengthAdjust="spacingAndGlyphs" stroke="#1a1a1a" stroke-width="0.3">TTX-</text><text x="184.8" y="521.9" font-size="13.1" font-weight="bold" fill="#1a1a1a" text-anchor="middle" textLength="60.8" lengthAdjust="spacingAndGlyphs" stroke="#1a1a1a" stroke-width="0.3">insensitive</text><path d="M313.0 337.5V485.0H461.6" stroke="#2a2a2a" stroke-width="1.8" fill="none"/><line x1="307.0" y1="485.0" x2="313.0" y2="485.0" stroke="#2a2a2a" stroke-width="1.8" /><text x="305.4" y="488.6" font-size="10.2" font-weight="bold" fill="#1a1a1a" text-anchor="end" stroke="#1a1a1a" stroke-width="0.25">0</text><line x1="307.0" y1="455.5" x2="313.0" y2="455.5" stroke="#2a2a2a" stroke-width="1.8" /><text x="305.4" y="459.1" font-size="10.2" font-weight="bold" fill="#1a1a1a" text-anchor="end" stroke="#1a1a1a" stroke-width="0.25">2</text><line x1="307.0" y1="426.0" x2="313.0" y2="426.0" stroke="#2a2a2a" stroke-width="1.8" /><text x="305.4" y="429.6" font-size="10.2" font-weight="bold" fill="#1a1a1a" text-anchor="end" stroke="#1a1a1a" stroke-width="0.25">4</text><line x1="307.0" y1="396.5" x2="313.0" y2="396.5" stroke="#2a2a2a" stroke-width="1.8" /><text x="305.4" y="400.1" font-size="10.2" font-weight="bold" fill="#1a1a1a" text-anchor="end" stroke="#1a1a1a" stroke-width="0.25">6</text><line x1="307.0" y1="367.0" x2="313.0" y2="367.0" stroke="#2a2a2a" stroke-width="1.8" /><text x="305.4" y="370.6" font-size="10.2" font-weight="bold" fill="#1a1a1a" text-anchor="end" stroke="#1a1a1a" stroke-width="0.25">8</text><line x1="307.0" y1="337.5" x2="313.0" y2="337.5" stroke="#2a2a2a" stroke-width="1.8" /><text x="305.4" y="341.1" font-size="10.2" font-weight="bold" fill="#1a1a1a" text-anchor="end" stroke="#1a1a1a" stroke-width="0.25">10</text><text transform="translate(285.7,409.9) rotate(-90)" font-size="13" font-weight="bold" fill="#1a1a1a" stroke="#1a1a1a" stroke-width="0.3" text-anchor="middle" textLength="117" lengthAdjust="spacingAndGlyphs">IPSC frequency [Hz]</text><defs><pattern id="h" patternUnits="userSpaceOnUse" width="2.2" height="3" patternTransform="rotate(45)"><rect width="2.2" height="3" fill="#F42A8C"/><rect x="0" width="0.75" height="3" fill="#fff" opacity="0.85"/></pattern></defs><rect x="321.5" y="341.9" width="13.6" height="7.2" fill="#fff" stroke="#F42A8C" stroke-width="1.9" /><rect x="321.5" y="362.2" width="13.6" height="6.8" fill="url(#h)" stroke="#F42A8C" stroke-width="1.9" /><text x="344.6" y="349.5" font-size="11.2" font-weight="bold" fill="#1a1a1a" text-anchor="start" textLength="57" lengthAdjust="spacingAndGlyphs" stroke="#1a1a1a" stroke-width="0.3">Before TTX</text><text x="344.6" y="369.4" font-size="11.2" font-weight="bold" fill="#1a1a1a" text-anchor="start" textLength="49" lengthAdjust="spacingAndGlyphs" stroke="#1a1a1a" stroke-width="0.3">After TTX</text><rect x="324.55" y="464.5625" width="16.899999999999956" height="20.43749999999999" fill="#fff" stroke="#F42A8C" stroke-width="1.9" /><rect x="353.90000000000003" y="477.6875" width="17.799999999999976" height="7.3125000000000115" fill="url(#h)" stroke="#F42A8C" stroke-width="1.6" /><rect x="403.55" y="443.91249999999997" width="16.79999999999999" height="41.08750000000002" fill="#fff" stroke="#F42A8C" stroke-width="1.9" /><rect x="432.90000000000003" y="476.36" width="17.999999999999964" height="8.639999999999997" fill="url(#h)" stroke="#F42A8C" stroke-width="1.6" /><line x1="333" y1="434.1" x2="363" y2="466.6" stroke="#555" stroke-width="0.7" stroke-dasharray="0.9 1.1"/><line x1="333" y1="451.8" x2="363" y2="472.5" stroke="#555" stroke-width="0.7" stroke-dasharray="0.9 1.1"/><line x1="333" y1="459.2" x2="363" y2="476.1" stroke="#555" stroke-width="0.7" stroke-dasharray="0.9 1.1"/><line x1="333" y1="467.3" x2="363" y2="477.6" stroke="#555" stroke-width="0.7" stroke-dasharray="0.9 1.1"/><line x1="333" y1="474.7" x2="363" y2="479.1" stroke="#555" stroke-width="0.7" stroke-dasharray="0.9 1.1"/><line x1="333" y1="476.9" x2="363" y2="479.8" stroke="#555" stroke-width="0.7" stroke-dasharray="0.9 1.1"/><line x1="333" y1="478.4" x2="363" y2="480.6" stroke="#555" stroke-width="0.7" stroke-dasharray="0.9 1.1"/><line x1="411.9" y1="344.9" x2="441.8" y2="454.8" stroke="#555" stroke-width="0.7" stroke-dasharray="0.9 1.1"/><line x1="411.9" y1="407.6" x2="441.8" y2="469.5" stroke="#555" stroke-width="0.7" stroke-dasharray="0.9 1.1"/><line x1="411.9" y1="417.9" x2="441.8" y2="472.5" stroke="#555" stroke-width="0.7" stroke-dasharray="0.9 1.1"/><line x1="411.9" y1="425.3" x2="441.8" y2="475.4" stroke="#555" stroke-width="0.7" stroke-dasharray="0.9 1.1"/><line x1="411.9" y1="458.4" x2="441.8" y2="477.6" stroke="#555" stroke-width="0.7" stroke-dasharray="0.9 1.1"/><line x1="411.9" y1="466.6" x2="441.8" y2="478.4" stroke="#555" stroke-width="0.7" stroke-dasharray="0.9 1.1"/><line x1="411.9" y1="472.5" x2="441.8" y2="479.8" stroke="#555" stroke-width="0.7" stroke-dasharray="0.9 1.1"/><line x1="411.9" y1="476.1" x2="441.8" y2="480.6" stroke="#555" stroke-width="0.7" stroke-dasharray="0.9 1.1"/><line x1="411.9" y1="479.1" x2="441.8" y2="481.3" stroke="#555" stroke-width="0.7" stroke-dasharray="0.9 1.1"/><path d="M363 476.8875V473.2M360.0 473.2H366.0" stroke="#F42A8C" stroke-width="1.6" fill="none"/><path d="M441.8 475.56V472.1675M438.8 472.1675H444.8" stroke="#F42A8C" stroke-width="1.6" fill="none"/><circle cx="333" cy="434.1" r="1.75" fill="#fff" stroke="#F42A8C" stroke-width="1.6"/><circle cx="333" cy="451.8" r="1.75" fill="#fff" stroke="#F42A8C" stroke-width="1.6"/><circle cx="333" cy="459.2" r="1.75" fill="#fff" stroke="#F42A8C" stroke-width="1.6"/><circle cx="333" cy="467.3" r="1.75" fill="#fff" stroke="#F42A8C" stroke-width="1.6"/><circle cx="333" cy="474.7" r="1.75" fill="#fff" stroke="#F42A8C" stroke-width="1.6"/><circle cx="333" cy="476.9" r="1.75" fill="#fff" stroke="#F42A8C" stroke-width="1.6"/><circle cx="333" cy="478.4" r="1.75" fill="#fff" stroke="#F42A8C" stroke-width="1.6"/><circle cx="363" cy="466.6" r="1.75" fill="#fff" stroke="#F42A8C" stroke-width="1.6"/><circle cx="363" cy="472.5" r="1.75" fill="#fff" stroke="#F42A8C" stroke-width="1.6"/><circle cx="363" cy="476.1" r="1.75" fill="#fff" stroke="#F42A8C" stroke-width="1.6"/><circle cx="363" cy="477.6" r="1.75" fill="#fff" stroke="#F42A8C" stroke-width="1.6"/><circle cx="363" cy="479.1" r="1.75" fill="#fff" stroke="#F42A8C" stroke-width="1.6"/><circle cx="363" cy="479.8" r="1.75" fill="#fff" stroke="#F42A8C" stroke-width="1.6"/><circle cx="363" cy="480.6" r="1.75" fill="#fff" stroke="#F42A8C" stroke-width="1.6"/><circle cx="411.9" cy="344.9" r="1.75" fill="#fff" stroke="#F42A8C" stroke-width="1.6"/><circle cx="411.9" cy="407.6" r="1.75" fill="#fff" stroke="#F42A8C" stroke-width="1.6"/><circle cx="411.9" cy="417.9" r="1.75" fill="#fff" stroke="#F42A8C" stroke-width="1.6"/><circle cx="411.9" cy="425.3" r="1.75" fill="#fff" stroke="#F42A8C" stroke-width="1.6"/><circle cx="411.9" cy="458.4" r="1.75" fill="#fff" stroke="#F42A8C" stroke-width="1.6"/><circle cx="411.9" cy="466.6" r="1.75" fill="#fff" stroke="#F42A8C" stroke-width="1.6"/><circle cx="411.9" cy="472.5" r="1.75" fill="#fff" stroke="#F42A8C" stroke-width="1.6"/><circle cx="411.9" cy="476.1" r="1.75" fill="#fff" stroke="#F42A8C" stroke-width="1.6"/><circle cx="411.9" cy="479.1" r="1.75" fill="#fff" stroke="#F42A8C" stroke-width="1.6"/><circle cx="441.8" cy="454.8" r="1.75" fill="#fff" stroke="#F42A8C" stroke-width="1.6"/><circle cx="441.8" cy="469.5" r="1.75" fill="#fff" stroke="#F42A8C" stroke-width="1.6"/><circle cx="441.8" cy="472.5" r="1.75" fill="#fff" stroke="#F42A8C" stroke-width="1.6"/><circle cx="441.8" cy="475.4" r="1.75" fill="#fff" stroke="#F42A8C" stroke-width="1.6"/><circle cx="441.8" cy="477.6" r="1.75" fill="#fff" stroke="#F42A8C" stroke-width="1.6"/><circle cx="441.8" cy="478.4" r="1.75" fill="#fff" stroke="#F42A8C" stroke-width="1.6"/><circle cx="441.8" cy="479.8" r="1.75" fill="#fff" stroke="#F42A8C" stroke-width="1.6"/><circle cx="441.8" cy="480.6" r="1.75" fill="#fff" stroke="#F42A8C" stroke-width="1.6"/><circle cx="441.8" cy="481.3" r="1.75" fill="#fff" stroke="#F42A8C" stroke-width="1.6"/><path d="M332.7 424.9V416.9H362.7V424.9" stroke="#2a2a2a" stroke-width="1.8" fill="none"/><text x="347.8" y="408.9" font-size="12" font-weight="normal" fill="#1a1a1a" text-anchor="middle" stroke="#1a1a1a" stroke-width="0.2">ns</text><path d="M411.4 336.5V328.2H442.3V336.5" stroke="#2a2a2a" stroke-width="1.8" fill="none"/><path d="M422.50 321.90L422.50 314.90M419.47 320.15L425.53 316.65M419.47 316.65L425.53 320.15" stroke="#111" stroke-width="1.9" fill="none"/><circle cx="422.5" cy="318.4" r="1.6" fill="#111"/><path d="M432.00 321.90L432.00 314.90M428.97 320.15L435.03 316.65M428.97 316.65L435.03 320.15" stroke="#111" stroke-width="1.9" fill="none"/><circle cx="432" cy="318.4" r="1.6" fill="#111"/><text x="347.5" y="504.2" font-size="10.8" font-weight="bold" fill="#1a1a1a" text-anchor="middle" textLength="37.3" lengthAdjust="spacingAndGlyphs" stroke="#1a1a1a" stroke-width="0.3">Control</text><text x="425" y="504.2" font-size="10.8" font-weight="bold" fill="#1a1a1a" text-anchor="middle" textLength="39.9" lengthAdjust="spacingAndGlyphs" stroke="#1a1a1a" stroke-width="0.3">General</text><text x="426.8" y="518.9" font-size="10.8" font-weight="bold" fill="#1a1a1a" text-anchor="middle" textLength="56.5" lengthAdjust="spacingAndGlyphs" stroke="#1a1a1a" stroke-width="0.3">GABA-T KD</text><path d="M534.4 336.6V483.8H681.9" stroke="#2a2a2a" stroke-width="1.8" fill="none"/><line x1="528.4" y1="483.8" x2="534.4" y2="483.8" stroke="#2a2a2a" stroke-width="1.8" /><text x="527.0" y="487.40000000000003" font-size="10.2" font-weight="bold" fill="#1a1a1a" text-anchor="end" stroke="#1a1a1a" stroke-width="0.25">0</text><line x1="528.4" y1="454.4" x2="534.4" y2="454.4" stroke="#2a2a2a" stroke-width="1.8" /><text x="527.0" y="458.0" font-size="10.2" font-weight="bold" fill="#1a1a1a" text-anchor="end" stroke="#1a1a1a" stroke-width="0.25">20</text><line x1="528.4" y1="425.0" x2="534.4" y2="425.0" stroke="#2a2a2a" stroke-width="1.8" /><text x="527.0" y="428.6" font-size="10.2" font-weight="bold" fill="#1a1a1a" text-anchor="end" stroke="#1a1a1a" stroke-width="0.25">40</text><line x1="528.4" y1="395.6" x2="534.4" y2="395.6" stroke="#2a2a2a" stroke-width="1.8" /><text x="527.0" y="399.20000000000005" font-size="10.2" font-weight="bold" fill="#1a1a1a" text-anchor="end" stroke="#1a1a1a" stroke-width="0.25">60</text><line x1="528.4" y1="366.2" x2="534.4" y2="366.2" stroke="#2a2a2a" stroke-width="1.8" /><text x="527.0" y="369.8" font-size="10.2" font-weight="bold" fill="#1a1a1a" text-anchor="end" stroke="#1a1a1a" stroke-width="0.25">80</text><line x1="528.4" y1="336.8" x2="534.4" y2="336.8" stroke="#2a2a2a" stroke-width="1.8" /><text x="527.0" y="340.40000000000003" font-size="10.2" font-weight="bold" fill="#1a1a1a" text-anchor="end" stroke="#1a1a1a" stroke-width="0.25">100</text><text transform="translate(501.3,410.3) rotate(-90)" font-size="13" font-weight="bold" fill="#1a1a1a" stroke="#1a1a1a" stroke-width="0.3" text-anchor="middle" textLength="115.4" lengthAdjust="spacingAndGlyphs">IPSC amplitude [pA]</text><rect x="545.75" y="392.875" width="17.000000000000092" height="90.925" fill="#fff" stroke="#F42A8C" stroke-width="1.9" /><rect x="574.8" y="390.52000000000004" width="18.100000000000044" height="93.27999999999999" fill="url(#h)" stroke="#F42A8C" stroke-width="1.6" /><rect x="624.6500000000001" y="399.49" width="17.6" height="84.30999999999999" fill="#fff" stroke="#F42A8C" stroke-width="1.9" /><rect x="654.3" y="395.665" width="17.199999999999953" height="88.135" fill="url(#h)" stroke="#F42A8C" stroke-width="1.6" /><line x1="553.7" y1="382.4" x2="583.8" y2="378.0" stroke="#555" stroke-width="0.7" stroke-dasharray="0.9 1.1"/><line x1="553.7" y1="385.3" x2="583.8" y2="382.4" stroke="#555" stroke-width="0.7" stroke-dasharray="0.9 1.1"/><line x1="553.7" y1="388.2" x2="583.8" y2="385.3" stroke="#555" stroke-width="0.7" stroke-dasharray="0.9 1.1"/><line x1="553.7" y1="392.7" x2="583.8" y2="389.7" stroke="#555" stroke-width="0.7" stroke-dasharray="0.9 1.1"/><line x1="553.7" y1="394.1" x2="583.8" y2="392.7" stroke="#555" stroke-width="0.7" stroke-dasharray="0.9 1.1"/><line x1="553.7" y1="397.1" x2="583.8" y2="395.6" stroke="#555" stroke-width="0.7" stroke-dasharray="0.9 1.1"/><line x1="553.7" y1="405.9" x2="583.8" y2="411.8" stroke="#555" stroke-width="0.7" stroke-dasharray="0.9 1.1"/><line x1="633.4" y1="383.1" x2="662.9" y2="385.3" stroke="#555" stroke-width="0.7" stroke-dasharray="0.9 1.1"/><line x1="633.4" y1="394.1" x2="662.9" y2="389.7" stroke="#555" stroke-width="0.7" stroke-dasharray="0.9 1.1"/><line x1="633.4" y1="397.1" x2="662.9" y2="392.7" stroke="#555" stroke-width="0.7" stroke-dasharray="0.9 1.1"/><line x1="633.4" y1="400.0" x2="662.9" y2="394.1" stroke="#555" stroke-width="0.7" stroke-dasharray="0.9 1.1"/><line x1="633.4" y1="401.5" x2="662.9" y2="395.6" stroke="#555" stroke-width="0.7" stroke-dasharray="0.9 1.1"/><line x1="633.4" y1="403.0" x2="662.9" y2="397.1" stroke="#555" stroke-width="0.7" stroke-dasharray="0.9 1.1"/><line x1="633.4" y1="404.4" x2="662.9" y2="398.5" stroke="#555" stroke-width="0.7" stroke-dasharray="0.9 1.1"/><path d="M583.8 389.72V386.045M579.0999999999999 386.045H588.5" stroke="#F42A8C" stroke-width="1.6" fill="none"/><path d="M662.9 394.865V392.66M659.4 392.66H666.4" stroke="#F42A8C" stroke-width="1.6" fill="none"/><circle cx="553.7" cy="382.4" r="1.75" fill="#fff" stroke="#F42A8C" stroke-width="1.6"/><circle cx="553.7" cy="385.3" r="1.75" fill="#fff" stroke="#F42A8C" stroke-width="1.6"/><circle cx="553.7" cy="388.2" r="1.75" fill="#fff" stroke="#F42A8C" stroke-width="1.6"/><circle cx="553.7" cy="392.7" r="1.75" fill="#fff" stroke="#F42A8C" stroke-width="1.6"/><circle cx="553.7" cy="394.1" r="1.75" fill="#fff" stroke="#F42A8C" stroke-width="1.6"/><circle cx="553.7" cy="397.1" r="1.75" fill="#fff" stroke="#F42A8C" stroke-width="1.6"/><circle cx="553.7" cy="405.9" r="1.75" fill="#fff" stroke="#F42A8C" stroke-width="1.6"/><circle cx="583.8" cy="378.0" r="1.75" fill="#fff" stroke="#F42A8C" stroke-width="1.6"/><circle cx="583.8" cy="382.4" r="1.75" fill="#fff" stroke="#F42A8C" stroke-width="1.6"/><circle cx="583.8" cy="385.3" r="1.75" fill="#fff" stroke="#F42A8C" stroke-width="1.6"/><circle cx="583.8" cy="389.7" r="1.75" fill="#fff" stroke="#F42A8C" stroke-width="1.6"/><circle cx="583.8" cy="392.7" r="1.75" fill="#fff" stroke="#F42A8C" stroke-width="1.6"/><circle cx="583.8" cy="395.6" r="1.75" fill="#fff" stroke="#F42A8C" stroke-width="1.6"/><circle cx="583.8" cy="411.8" r="1.75" fill="#fff" stroke="#F42A8C" stroke-width="1.6"/><circle cx="633.4" cy="383.1" r="1.75" fill="#fff" stroke="#F42A8C" stroke-width="1.6"/><circle cx="633.4" cy="394.1" r="1.75" fill="#fff" stroke="#F42A8C" stroke-width="1.6"/><circle cx="633.4" cy="397.1" r="1.75" fill="#fff" stroke="#F42A8C" stroke-width="1.6"/><circle cx="633.4" cy="400.0" r="1.75" fill="#fff" stroke="#F42A8C" stroke-width="1.6"/><circle cx="633.4" cy="401.5" r="1.75" fill="#fff" stroke="#F42A8C" stroke-width="1.6"/><circle cx="633.4" cy="403.0" r="1.75" fill="#fff" stroke="#F42A8C" stroke-width="1.6"/><circle cx="633.4" cy="404.4" r="1.75" fill="#fff" stroke="#F42A8C" stroke-width="1.6"/><circle cx="662.9" cy="385.3" r="1.75" fill="#fff" stroke="#F42A8C" stroke-width="1.6"/><circle cx="662.9" cy="389.7" r="1.75" fill="#fff" stroke="#F42A8C" stroke-width="1.6"/><circle cx="662.9" cy="392.7" r="1.75" fill="#fff" stroke="#F42A8C" stroke-width="1.6"/><circle cx="662.9" cy="394.1" r="1.75" fill="#fff" stroke="#F42A8C" stroke-width="1.6"/><circle cx="662.9" cy="395.6" r="1.75" fill="#fff" stroke="#F42A8C" stroke-width="1.6"/><circle cx="662.9" cy="397.1" r="1.75" fill="#fff" stroke="#F42A8C" stroke-width="1.6"/><circle cx="662.9" cy="398.5" r="1.75" fill="#fff" stroke="#F42A8C" stroke-width="1.6"/><path d="M553.4 368.2V360.6H584.2V368.2" stroke="#2a2a2a" stroke-width="1.8" fill="none"/><text x="568.8" y="353.2" font-size="12" font-weight="normal" fill="#1a1a1a" text-anchor="middle" stroke="#1a1a1a" stroke-width="0.2">ns</text><path d="M632.9 368.2V360.6H663V368.2" stroke="#2a2a2a" stroke-width="1.8" fill="none"/><text x="648" y="353.2" font-size="12" font-weight="normal" fill="#1a1a1a" text-anchor="middle" stroke="#1a1a1a" stroke-width="0.2">ns</text><text x="568.8" y="503.3" font-size="10.8" font-weight="bold" fill="#1a1a1a" text-anchor="middle" textLength="37.8" lengthAdjust="spacingAndGlyphs" stroke="#1a1a1a" stroke-width="0.3">Control</text><text x="646.9" y="503.3" font-size="10.8" font-weight="bold" fill="#1a1a1a" text-anchor="middle" textLength="40" lengthAdjust="spacingAndGlyphs" stroke="#1a1a1a" stroke-width="0.3">General</text><text x="648.2" y="517.3" font-size="10.8" font-weight="bold" fill="#1a1a1a" text-anchor="middle" textLength="56.8" lengthAdjust="spacingAndGlyphs" stroke="#1a1a1a" stroke-width="0.3">GABA-T KD</text>
</svg>
</body></html>
